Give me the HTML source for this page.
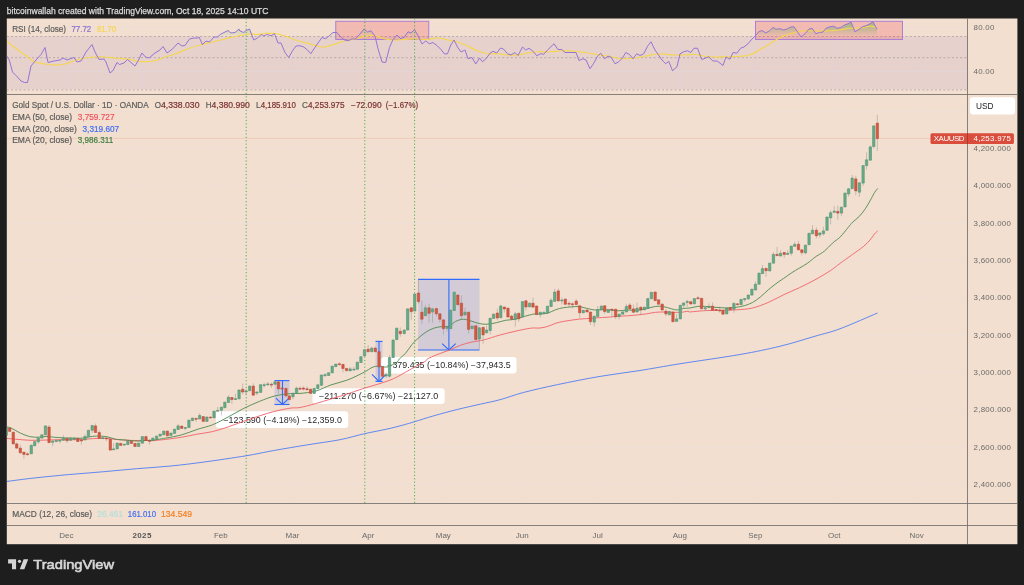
<!DOCTYPE html>
<html><head><meta charset="utf-8"><title>XAUUSD chart</title>
<style>html,body{margin:0;padding:0;background:#1e1e1e;overflow:hidden}svg{display:block;will-change:transform}</style></head>
<body>
<svg width="1024" height="585" viewBox="0 0 1024 585" font-family="'Liberation Sans', Arial, sans-serif">
<defs>
<clipPath id="cm"><rect x="6.8" y="94.5" width="960.7" height="409.0"/></clipPath>
<clipPath id="cr"><rect x="6.8" y="18.5" width="960.7" height="76.0"/></clipPath>
<clipPath id="ob"><rect x="6.8" y="18.5" width="960.7" height="17.75"/></clipPath>
<linearGradient id="gg" gradientUnits="userSpaceOnUse" x1="0" y1="8" x2="0" y2="36.25"><stop offset="0" stop-color="#4caf50" stop-opacity="1"/><stop offset="1" stop-color="#4caf50" stop-opacity="0"/></linearGradient>
</defs>
<rect width="1024" height="585" fill="#1e1e1e"/>
<rect x="6.8" y="18.5" width="1010.6" height="525.7" fill="#f2dfcf"/>
<g stroke="rgba(222,227,238,0.24)" stroke-width="1" shape-rendering="crispEdges">
<line x1="66.4" y1="18.5" x2="66.4" y2="503.5"/>
<line x1="142.1" y1="18.5" x2="142.1" y2="503.5"/>
<line x1="220.8" y1="18.5" x2="220.8" y2="503.5"/>
<line x1="292.5" y1="18.5" x2="292.5" y2="503.5"/>
<line x1="368.2" y1="18.5" x2="368.2" y2="503.5"/>
<line x1="443.3" y1="18.5" x2="443.3" y2="503.5"/>
<line x1="522.3" y1="18.5" x2="522.3" y2="503.5"/>
<line x1="597.6" y1="18.5" x2="597.6" y2="503.5"/>
<line x1="679.9" y1="18.5" x2="679.9" y2="503.5"/>
<line x1="755.3" y1="18.5" x2="755.3" y2="503.5"/>
<line x1="834.3" y1="18.5" x2="834.3" y2="503.5"/>
<line x1="916.6" y1="18.5" x2="916.6" y2="503.5"/>
<line x1="6.8" y1="111.4" x2="967.5" y2="111.4"/>
<line x1="6.8" y1="148.7" x2="967.5" y2="148.7"/>
<line x1="6.8" y1="186.1" x2="967.5" y2="186.1"/>
<line x1="6.8" y1="223.4" x2="967.5" y2="223.4"/>
<line x1="6.8" y1="260.8" x2="967.5" y2="260.8"/>
<line x1="6.8" y1="298.1" x2="967.5" y2="298.1"/>
<line x1="6.8" y1="335.5" x2="967.5" y2="335.5"/>
<line x1="6.8" y1="372.8" x2="967.5" y2="372.8"/>
<line x1="6.8" y1="410.2" x2="967.5" y2="410.2"/>
<line x1="6.8" y1="447.5" x2="967.5" y2="447.5"/>
<line x1="6.8" y1="484.9" x2="967.5" y2="484.9"/>
</g>
<rect x="6.8" y="36.25" width="960.7" height="53.0" fill="rgba(126,87,194,0.10)"/>
<g stroke="rgba(222,227,238,0.24)" stroke-width="1"><line x1="6.8" y1="27.4" x2="967.5" y2="27.4"/><line x1="6.8" y1="71.3" x2="967.5" y2="71.3"/></g>
<g stroke="#a09a9a" stroke-width="0.85" stroke-dasharray="1.9,2.3" opacity="0.85">
<line x1="6.8" y1="36.5" x2="967.5" y2="36.5"/>
<line x1="6.8" y1="57.7" x2="967.5" y2="57.7"/>
<line x1="6.8" y1="89.9" x2="967.5" y2="89.9"/>
</g>
<rect x="335.75" y="21.3" width="93.0" height="18.2" fill="rgba(242,54,69,0.22)" stroke="#ab7fd4" stroke-width="1"/>
<rect x="755.5" y="21.3" width="147.0" height="18.2" fill="rgba(242,54,69,0.22)" stroke="#ab7fd4" stroke-width="1"/>
<g clip-path="url(#cr)" fill="none" stroke-linejoin="round">
<polygon points="7.00,36.25 7.00,56.25 9.25,60.00 12.50,72.00 16.00,75.50 21.00,81.00 24.50,82.50 27.50,82.50 31.00,66.00 36.00,60.00 41.00,54.50 45.00,47.50 48.00,62.50 54.00,61.00 60.00,60.00 63.00,58.00 67.00,60.00 74.00,57.50 77.00,62.00 81.00,61.00 86.00,52.00 92.00,44.50 95.00,52.00 99.00,59.50 104.00,59.00 106.00,62.00 110.00,73.00 113.00,70.50 117.00,62.50 119.50,64.50 124.00,63.00 127.50,59.50 131.00,62.50 135.00,66.00 138.00,61.00 142.00,53.00 145.50,57.00 149.00,58.00 155.00,53.00 160.00,50.00 163.00,46.50 167.00,53.00 172.50,49.00 178.00,43.00 182.00,46.00 185.00,45.50 189.50,39.00 194.00,38.00 197.50,38.00 199.00,37.00 202.50,44.50 206.00,41.00 209.50,42.00 214.00,37.00 217.50,37.00 221.00,34.00 225.00,32.00 228.00,30.50 231.00,33.00 235.00,32.50 239.00,29.00 240.00,31.00 243.75,32.50 246.00,30.50 249.50,29.00 253.75,40.00 257.50,38.00 261.00,34.50 263.75,35.75 267.50,34.50 271.00,35.75 274.50,33.75 278.00,43.00 281.00,43.00 285.00,52.50 288.75,57.50 292.50,50.75 296.00,46.00 300.00,45.75 303.75,47.00 307.50,50.00 310.75,53.75 314.50,48.00 318.00,43.00 322.00,37.50 325.75,38.75 329.50,35.50 333.00,32.50 337.00,32.50 340.75,37.00 344.50,40.00 348.00,40.75 352.00,39.00 355.75,38.75 359.50,34.50 364.00,29.00 367.50,32.00 371.00,30.75 375.00,36.00 378.00,48.75 382.00,62.00 385.75,62.50 389.50,47.50 393.00,39.50 397.00,35.00 400.75,38.75 404.50,37.00 408.00,31.75 411.00,33.00 414.50,29.50 418.00,35.75 422.00,44.00 425.75,41.00 429.50,43.75 433.00,42.50 437.50,46.00 441.00,49.50 444.50,54.00 447.50,53.75 450.75,45.00 454.00,40.00 457.50,47.00 461.00,52.00 465.00,50.00 468.00,58.75 472.00,57.50 475.75,64.00 479.50,58.00 482.50,61.75 486.00,58.75 490.00,53.25 493.00,51.25 496.75,53.00 500.50,48.00 503.75,49.25 507.50,53.75 511.00,55.00 515.00,52.50 518.00,55.50 522.50,47.00 525.75,50.00 529.00,48.25 533.00,51.25 536.75,55.75 540.50,53.75 543.75,54.25 547.50,50.00 554.00,43.75 558.00,49.50 561.75,49.50 565.00,52.50 576.00,52.50 579.00,60.50 583.00,58.75 586.00,60.00 590.00,68.75 593.75,63.25 597.50,56.25 600.75,53.25 604.50,58.75 608.00,56.25 611.00,57.00 615.00,63.75 618.75,61.75 622.50,58.00 625.75,52.50 629.50,54.50 633.00,58.75 636.75,53.75 640.00,55.50 643.75,53.75 647.50,46.25 651.00,41.75 655.00,50.00 658.00,54.25 662.00,60.00 665.75,63.75 668.75,61.25 672.50,70.75 677.00,66.75 680.00,53.75 683.75,51.75 687.50,50.75 690.75,52.50 694.00,48.25 697.50,48.25 701.75,59.50 705.00,58.25 708.75,56.75 712.50,60.75 717.50,61.25 723.00,65.50 726.00,57.00 730.00,59.25 733.00,52.50 736.75,53.25 740.50,48.25 744.00,47.00 748.00,43.75 751.75,39.25 755.00,36.25 758.75,31.75 762.00,30.50 765.75,33.00 769.50,30.75 773.00,27.50 776.00,29.25 780.00,28.75 783.75,30.00 787.50,28.75 790.75,27.00 794.00,26.75 798.00,32.50 801.00,37.00 805.00,33.75 808.75,29.25 812.00,28.25 815.75,33.75 819.50,32.50 823.00,32.00 826.00,28.25 830.00,26.75 833.75,26.25 837.00,28.25 840.75,27.50 844.50,25.00 848.00,23.75 851.00,22.00 855.00,31.75 858.75,29.50 862.50,26.75 866.00,25.75 870.00,23.75 873.00,21.75 877.00,29.25 877.00,36.25" fill="url(#gg)" stroke="none" clip-path="url(#ob)"/>
<path d="M7.00 41.00 C7.92 41.83 9.50 43.67 12.50 46.00 C15.50 48.33 21.25 52.33 25.00 55.00 C28.75 57.67 31.67 60.50 35.00 62.00 C38.33 63.50 41.25 63.50 45.00 64.00 C48.75 64.50 54.17 65.00 57.50 65.00 C60.83 65.00 62.08 64.75 65.00 64.00 C67.92 63.25 71.67 61.50 75.00 60.50 C78.33 59.50 81.67 58.58 85.00 58.00 C88.33 57.42 91.67 57.17 95.00 57.00 C98.33 56.83 101.67 56.83 105.00 57.00 C108.33 57.17 110.83 57.58 115.00 58.00 C119.17 58.42 125.83 58.92 130.00 59.50 C134.17 60.08 136.67 61.17 140.00 61.50 C143.33 61.83 147.08 61.75 150.00 61.50 C152.92 61.25 155.00 60.75 157.50 60.00 C160.00 59.25 162.08 58.00 165.00 57.00 C167.92 56.00 171.25 55.33 175.00 54.00 C178.75 52.67 183.33 50.50 187.50 49.00 C191.67 47.50 195.83 46.17 200.00 45.00 C204.17 43.83 208.33 43.00 212.50 42.00 C216.67 41.00 220.83 40.00 225.00 39.00 C229.17 38.00 233.33 36.83 237.50 36.00 C241.67 35.17 246.92 34.25 250.00 34.00 C253.08 33.75 253.50 34.58 256.00 34.50 C258.50 34.42 261.83 33.67 265.00 33.50 C268.17 33.33 271.67 33.08 275.00 33.50 C278.33 33.92 281.25 34.79 285.00 36.00 C288.75 37.21 293.33 39.42 297.50 40.75 C301.67 42.08 306.25 43.00 310.00 44.00 C313.75 45.00 317.33 46.29 320.00 46.75 C322.67 47.21 323.50 47.21 326.00 46.75 C328.50 46.29 331.83 45.00 335.00 44.00 C338.17 43.00 341.67 41.58 345.00 40.75 C348.33 39.92 351.67 39.79 355.00 39.00 C358.33 38.21 361.67 36.54 365.00 36.00 C368.33 35.46 371.67 35.25 375.00 35.75 C378.33 36.25 381.67 38.29 385.00 39.00 C388.33 39.71 391.67 39.92 395.00 40.00 C398.33 40.08 401.67 39.71 405.00 39.50 C408.33 39.29 411.25 38.75 415.00 38.75 C418.75 38.75 423.75 39.62 427.50 39.50 C431.25 39.38 434.17 37.92 437.50 38.00 C440.83 38.08 444.17 39.33 447.50 40.00 C450.83 40.67 454.17 41.00 457.50 42.00 C460.83 43.00 464.17 44.54 467.50 46.00 C470.83 47.46 474.17 49.46 477.50 50.75 C480.83 52.04 484.17 53.25 487.50 53.75 C490.83 54.25 494.17 53.54 497.50 53.75 C500.83 53.96 504.17 54.79 507.50 55.00 C510.83 55.21 514.17 55.33 517.50 55.00 C520.83 54.67 524.17 53.54 527.50 53.00 C530.83 52.46 533.75 51.96 537.50 51.75 C541.25 51.54 545.83 51.92 550.00 51.75 C554.17 51.58 558.33 50.83 562.50 50.75 C566.67 50.67 570.83 50.88 575.00 51.25 C579.17 51.62 583.33 52.38 587.50 53.00 C591.67 53.62 595.83 54.33 600.00 55.00 C604.17 55.67 608.75 56.38 612.50 57.00 C616.25 57.62 618.75 58.58 622.50 58.75 C626.25 58.92 631.25 58.42 635.00 58.00 C638.75 57.58 641.67 56.88 645.00 56.25 C648.33 55.62 651.67 54.58 655.00 54.25 C658.33 53.92 661.67 54.12 665.00 54.25 C668.33 54.38 671.67 54.88 675.00 55.00 C678.33 55.12 681.67 55.08 685.00 55.00 C688.33 54.92 691.67 54.29 695.00 54.50 C698.33 54.71 701.67 55.83 705.00 56.25 C708.33 56.67 711.67 56.92 715.00 57.00 C718.33 57.08 722.50 56.79 725.00 56.75 C727.50 56.71 727.50 56.83 730.00 56.75 C732.50 56.67 736.67 56.54 740.00 56.25 C743.33 55.96 746.67 56.12 750.00 55.00 C753.33 53.88 756.67 51.38 760.00 49.50 C763.33 47.62 766.67 45.75 770.00 43.75 C773.33 41.75 776.67 39.17 780.00 37.50 C783.33 35.83 786.67 34.79 790.00 33.75 C793.33 32.71 796.67 31.75 800.00 31.25 C803.33 30.75 806.67 30.75 810.00 30.75 C813.33 30.75 816.67 31.25 820.00 31.25 C823.33 31.25 826.67 30.96 830.00 30.75 C833.33 30.54 836.67 30.42 840.00 30.00 C843.33 29.58 846.67 28.58 850.00 28.25 C853.33 27.92 856.67 28.33 860.00 28.00 C863.33 27.67 867.17 26.33 870.00 26.25 C872.83 26.17 875.83 27.29 877.00 27.50" stroke="#f5d552" stroke-width="1.25"/>
<polyline points="7.00,56.25 9.25,60.00 12.50,72.00 16.00,75.50 21.00,81.00 24.50,82.50 27.50,82.50 31.00,66.00 36.00,60.00 41.00,54.50 45.00,47.50 48.00,62.50 54.00,61.00 60.00,60.00 63.00,58.00 67.00,60.00 74.00,57.50 77.00,62.00 81.00,61.00 86.00,52.00 92.00,44.50 95.00,52.00 99.00,59.50 104.00,59.00 106.00,62.00 110.00,73.00 113.00,70.50 117.00,62.50 119.50,64.50 124.00,63.00 127.50,59.50 131.00,62.50 135.00,66.00 138.00,61.00 142.00,53.00 145.50,57.00 149.00,58.00 155.00,53.00 160.00,50.00 163.00,46.50 167.00,53.00 172.50,49.00 178.00,43.00 182.00,46.00 185.00,45.50 189.50,39.00 194.00,38.00 197.50,38.00 199.00,37.00 202.50,44.50 206.00,41.00 209.50,42.00 214.00,37.00 217.50,37.00 221.00,34.00 225.00,32.00 228.00,30.50 231.00,33.00 235.00,32.50 239.00,29.00 240.00,31.00 243.75,32.50 246.00,30.50 249.50,29.00 253.75,40.00 257.50,38.00 261.00,34.50 263.75,35.75 267.50,34.50 271.00,35.75 274.50,33.75 278.00,43.00 281.00,43.00 285.00,52.50 288.75,57.50 292.50,50.75 296.00,46.00 300.00,45.75 303.75,47.00 307.50,50.00 310.75,53.75 314.50,48.00 318.00,43.00 322.00,37.50 325.75,38.75 329.50,35.50 333.00,32.50 337.00,32.50 340.75,37.00 344.50,40.00 348.00,40.75 352.00,39.00 355.75,38.75 359.50,34.50 364.00,29.00 367.50,32.00 371.00,30.75 375.00,36.00 378.00,48.75 382.00,62.00 385.75,62.50 389.50,47.50 393.00,39.50 397.00,35.00 400.75,38.75 404.50,37.00 408.00,31.75 411.00,33.00 414.50,29.50 418.00,35.75 422.00,44.00 425.75,41.00 429.50,43.75 433.00,42.50 437.50,46.00 441.00,49.50 444.50,54.00 447.50,53.75 450.75,45.00 454.00,40.00 457.50,47.00 461.00,52.00 465.00,50.00 468.00,58.75 472.00,57.50 475.75,64.00 479.50,58.00 482.50,61.75 486.00,58.75 490.00,53.25 493.00,51.25 496.75,53.00 500.50,48.00 503.75,49.25 507.50,53.75 511.00,55.00 515.00,52.50 518.00,55.50 522.50,47.00 525.75,50.00 529.00,48.25 533.00,51.25 536.75,55.75 540.50,53.75 543.75,54.25 547.50,50.00 554.00,43.75 558.00,49.50 561.75,49.50 565.00,52.50 576.00,52.50 579.00,60.50 583.00,58.75 586.00,60.00 590.00,68.75 593.75,63.25 597.50,56.25 600.75,53.25 604.50,58.75 608.00,56.25 611.00,57.00 615.00,63.75 618.75,61.75 622.50,58.00 625.75,52.50 629.50,54.50 633.00,58.75 636.75,53.75 640.00,55.50 643.75,53.75 647.50,46.25 651.00,41.75 655.00,50.00 658.00,54.25 662.00,60.00 665.75,63.75 668.75,61.25 672.50,70.75 677.00,66.75 680.00,53.75 683.75,51.75 687.50,50.75 690.75,52.50 694.00,48.25 697.50,48.25 701.75,59.50 705.00,58.25 708.75,56.75 712.50,60.75 717.50,61.25 723.00,65.50 726.00,57.00 730.00,59.25 733.00,52.50 736.75,53.25 740.50,48.25 744.00,47.00 748.00,43.75 751.75,39.25 755.00,36.25 758.75,31.75 762.00,30.50 765.75,33.00 769.50,30.75 773.00,27.50 776.00,29.25 780.00,28.75 783.75,30.00 787.50,28.75 790.75,27.00 794.00,26.75 798.00,32.50 801.00,37.00 805.00,33.75 808.75,29.25 812.00,28.25 815.75,33.75 819.50,32.50 823.00,32.00 826.00,28.25 830.00,26.75 833.75,26.25 837.00,28.25 840.75,27.50 844.50,25.00 848.00,23.75 851.00,22.00 855.00,31.75 858.75,29.50 862.50,26.75 866.00,25.75 870.00,23.75 873.00,21.75 877.00,29.25" stroke="#9575d2" stroke-width="1.0"/>
</g>
<rect x="274.5" y="380.6" width="15.0" height="23.899999999999977" fill="rgba(88,124,238,0.20)"/>
<g stroke="#2f6bff" stroke-width="1.1" fill="none">
<line x1="274.5" y1="380.6" x2="289.5" y2="380.6"/><line x1="274.5" y1="404.5" x2="289.5" y2="404.5"/>
<line x1="282.5" y1="380.6" x2="282.5" y2="404.5"/>
<polyline points="275.9,398.2 282.5,404.5 289.1,398.2"/>
</g>
<rect x="375.5" y="341.4" width="7.0" height="40.0" fill="rgba(88,124,238,0.20)"/>
<g stroke="#2f6bff" stroke-width="1.1" fill="none">
<line x1="375.5" y1="341.4" x2="382.5" y2="341.4"/><line x1="375.5" y1="381.4" x2="382.5" y2="381.4"/>
<line x1="379" y1="341.4" x2="379" y2="381.4"/>
<polyline points="372,374.4 379,381.4 386,374.4"/>
</g>
<rect x="418.1" y="279.4" width="61.39999999999998" height="70.60000000000002" fill="rgba(88,124,238,0.20)"/>
<g stroke="#2f6bff" stroke-width="1.1" fill="none">
<line x1="418.1" y1="279.4" x2="479.5" y2="279.4"/><line x1="418.1" y1="350" x2="479.5" y2="350"/>
<line x1="448.9" y1="279.4" x2="448.9" y2="350"/>
<polyline points="442.09999999999997,343.7 448.9,350 455.7,343.7"/>
</g>
<rect x="215.9" y="411.3" width="132.29999999999998" height="16.80000000000001" rx="3" fill="#ffffff" filter="none"/>
<text x="223.4" y="422.6" font-size="8.3" fill="#2a2a2a" textLength="118.5" lengthAdjust="spacingAndGlyphs">−123.590 (−4.18%) −12,359.0</text>
<rect x="312.5" y="388.2" width="132.2" height="15.800000000000011" rx="3" fill="#ffffff" filter="none"/>
<text x="319" y="399.0" font-size="8.3" fill="#2a2a2a" textLength="119.3" lengthAdjust="spacingAndGlyphs">−211.270 (−6.67%) −21,127.0</text>
<rect x="381.3" y="357.1" width="135.2" height="16.5" rx="3" fill="#ffffff" filter="none"/>
<text x="387.2" y="368.2" font-size="8.3" fill="#2a2a2a" textLength="123.5" lengthAdjust="spacingAndGlyphs">−379.435 (−10.84%) −37,943.5</text>
<g stroke="#4caf50" stroke-width="1" stroke-dasharray="1.2,2.18">
<line x1="246.2" y1="18.5" x2="246.2" y2="503.5"/>
<line x1="364.8" y1="18.5" x2="364.8" y2="503.5"/>
<line x1="414.6" y1="18.5" x2="414.6" y2="503.5"/>
</g>
<g clip-path="url(#cm)" fill="none" stroke-linejoin="round">
<path d="M7.00 481.40 C11.53 480.83 23.97 479.13 34.20 478.00 C44.43 476.87 57.02 475.63 68.40 474.60 C79.78 473.57 91.12 472.78 102.50 471.80 C113.88 470.82 125.30 469.67 136.70 468.70 C148.10 467.73 159.52 467.13 170.90 466.00 C182.28 464.87 192.48 463.60 205.00 461.90 C217.52 460.20 234.60 457.68 246.00 455.80 C257.40 453.92 263.13 452.43 273.40 450.60 C283.67 448.77 296.50 446.62 307.60 444.80 C318.70 442.98 330.57 441.54 340.00 439.70 C349.43 437.86 356.38 435.52 364.20 433.75 C372.02 431.98 380.52 430.53 386.90 429.10 C393.28 427.68 397.90 426.43 402.50 425.20 C407.10 423.97 409.29 423.27 414.50 421.70 C419.71 420.13 426.63 417.83 433.75 415.80 C440.87 413.77 449.39 411.45 457.20 409.50 C465.01 407.55 473.47 405.73 480.60 404.10 C487.73 402.47 492.87 401.63 500.00 399.70 C507.13 397.77 513.80 395.02 523.40 392.50 C533.00 389.98 544.83 387.28 557.60 384.60 C570.37 381.92 586.27 378.75 600.00 376.40 C613.73 374.05 626.67 372.61 640.00 370.50 C653.33 368.39 663.33 366.42 680.00 363.75 C696.67 361.08 723.33 357.42 740.00 354.50 C756.67 351.58 767.50 349.29 780.00 346.25 C792.50 343.21 805.00 339.17 815.00 336.25 C825.00 333.33 829.58 332.62 840.00 328.75 C850.42 324.88 871.25 315.62 877.50 313.00" stroke="#4f7df5" stroke-width="0.9"/>
<path d="M7.00 438.40 C8.43 438.53 11.60 438.88 15.60 439.20 C19.60 439.52 25.77 440.17 31.00 440.30 C36.23 440.43 41.75 440.10 47.00 440.00 C52.25 439.90 57.33 439.75 62.50 439.70 C67.67 439.65 72.79 439.88 78.00 439.70 C83.21 439.52 89.08 438.82 93.75 438.60 C98.42 438.38 101.83 438.22 106.00 438.40 C110.17 438.58 114.02 439.35 118.75 439.70 C123.48 440.05 129.71 440.40 134.40 440.50 C139.09 440.60 144.30 440.23 146.90 440.30 C149.50 440.37 146.88 441.05 150.00 440.90 C153.12 440.75 160.39 440.00 165.60 439.40 C170.81 438.80 176.03 438.17 181.25 437.30 C186.47 436.43 191.69 435.15 196.90 434.20 C202.11 433.25 207.30 432.82 212.50 431.60 C217.70 430.38 222.89 428.62 228.10 426.90 C233.31 425.17 238.53 423.08 243.75 421.25 C248.97 419.42 254.19 417.57 259.40 415.90 C264.61 414.23 269.80 412.55 275.00 411.25 C280.20 409.95 286.43 408.73 290.60 408.10 C294.77 407.48 295.83 408.25 300.00 407.50 C304.17 406.75 310.39 405.03 315.60 403.60 C320.81 402.17 326.03 400.47 331.25 398.90 C336.47 397.33 341.69 395.89 346.90 394.20 C352.11 392.51 357.30 390.43 362.50 388.75 C367.70 387.07 372.89 385.79 378.10 384.10 C383.31 382.41 388.53 380.95 393.75 378.60 C398.97 376.25 404.19 372.87 409.40 370.00 C414.61 367.13 421.98 363.25 425.00 361.40 C428.02 359.55 425.52 360.02 427.50 358.90 C429.48 357.78 433.25 356.18 436.90 354.70 C440.55 353.22 445.50 351.57 449.40 350.00 C453.30 348.43 456.66 346.60 460.30 345.30 C463.94 344.00 467.34 343.10 471.25 342.20 C475.16 341.30 479.06 341.07 483.75 339.90 C488.44 338.73 494.19 336.63 499.40 335.20 C504.61 333.77 509.80 332.47 515.00 331.30 C520.20 330.13 526.43 328.75 530.60 328.20 C534.77 327.65 537.13 328.30 540.00 328.00 C542.87 327.70 545.20 327.18 547.80 326.40 C550.40 325.62 553.00 324.13 555.60 323.30 C558.20 322.47 560.79 321.92 563.40 321.40 C566.01 320.88 568.63 320.58 571.25 320.20 C573.87 319.82 576.49 319.37 579.10 319.10 C581.71 318.83 584.30 318.77 586.90 318.60 C589.50 318.43 592.10 318.28 594.70 318.10 C597.30 317.92 599.90 317.68 602.50 317.50 C605.10 317.32 607.70 317.21 610.30 317.00 C612.90 316.79 615.23 316.45 618.10 316.25 C620.97 316.05 624.37 316.01 627.50 315.80 C630.63 315.59 633.77 315.32 636.90 315.00 C640.02 314.68 643.13 314.35 646.25 313.90 C649.37 313.45 652.48 312.62 655.60 312.30 C658.73 311.98 662.13 312.00 665.00 312.00 C667.87 312.00 670.20 312.25 672.80 312.30 C675.40 312.35 678.00 312.48 680.60 312.30 C683.20 312.12 686.83 311.32 688.40 311.25 C689.97 311.18 687.13 312.01 690.00 311.90 C692.87 311.79 700.39 310.87 705.60 310.60 C710.81 310.33 716.03 310.43 721.25 310.30 C726.47 310.17 731.69 310.18 736.90 309.80 C742.11 309.42 747.30 309.22 752.50 308.00 C757.70 306.78 762.89 304.72 768.10 302.50 C773.31 300.28 778.53 297.17 783.75 294.70 C788.97 292.23 794.19 290.18 799.40 287.70 C804.61 285.22 809.80 282.67 815.00 279.80 C820.20 276.93 826.43 273.23 830.60 270.50 C834.77 267.77 836.68 265.83 840.00 263.40 C843.32 260.97 847.58 257.98 850.50 255.90 C853.42 253.82 855.29 252.51 857.50 250.90 C859.71 249.29 861.67 248.07 863.75 246.25 C865.83 244.43 868.17 242.08 870.00 240.00 C871.83 237.92 873.40 235.27 874.70 233.75 C876.00 232.23 877.28 231.38 877.80 230.90" stroke="#f0626a" stroke-width="0.9"/>
<path d="M7.00 427.00 C7.67 427.17 8.78 427.00 11.00 428.00 C13.22 429.00 17.18 431.57 20.30 433.00 C23.42 434.43 26.58 435.90 29.70 436.60 C32.82 437.30 36.12 437.23 39.00 437.20 C41.88 437.17 44.38 436.38 47.00 436.40 C49.62 436.42 50.82 437.02 54.70 437.30 C58.58 437.58 65.62 437.97 70.30 438.10 C74.98 438.23 79.15 438.38 82.80 438.10 C86.45 437.82 89.33 436.73 92.20 436.40 C95.07 436.07 97.40 436.02 100.00 436.10 C102.60 436.18 105.20 436.38 107.80 436.90 C110.40 437.42 112.73 438.68 115.60 439.20 C118.47 439.72 121.35 439.68 125.00 440.00 C128.65 440.32 133.85 441.05 137.50 441.10 C141.15 441.15 144.82 440.40 146.90 440.30 C148.98 440.20 146.88 440.87 150.00 440.50 C153.12 440.13 160.39 439.02 165.60 438.10 C170.81 437.18 176.03 436.43 181.25 435.00 C186.47 433.57 191.69 431.20 196.90 429.50 C202.11 427.80 207.30 426.88 212.50 424.80 C217.70 422.72 222.89 419.73 228.10 417.00 C233.31 414.27 238.53 411.00 243.75 408.40 C248.97 405.80 254.19 403.48 259.40 401.40 C264.61 399.32 269.80 397.20 275.00 395.90 C280.20 394.60 286.43 394.02 290.60 393.60 C294.77 393.18 295.83 393.82 300.00 393.40 C304.17 392.98 310.39 392.53 315.60 391.10 C320.81 389.67 326.03 386.62 331.25 384.80 C336.47 382.98 341.69 382.15 346.90 380.20 C352.11 378.25 358.08 375.32 362.50 373.10 C366.92 370.88 370.27 368.02 373.40 366.90 C376.52 365.78 378.90 366.40 381.25 366.40 C383.60 366.40 384.89 367.60 387.50 366.90 C390.11 366.20 394.92 363.53 396.90 362.20 C398.88 360.87 397.95 360.40 399.40 358.90 C400.85 357.40 403.52 355.58 405.60 353.20 C407.68 350.82 409.82 347.08 411.90 344.60 C413.98 342.12 415.77 340.38 418.10 338.30 C420.43 336.22 423.29 333.78 425.90 332.10 C428.51 330.42 431.13 329.12 433.75 328.20 C436.37 327.28 438.99 326.95 441.60 326.60 C444.21 326.25 447.07 326.97 449.40 326.10 C451.73 325.23 453.27 322.54 455.60 321.40 C457.93 320.26 460.79 319.30 463.40 319.25 C466.01 319.20 468.63 320.39 471.25 321.10 C473.87 321.81 476.49 322.98 479.10 323.50 C481.71 324.02 484.04 324.38 486.90 324.25 C489.76 324.12 493.13 323.36 496.25 322.70 C499.37 322.04 502.48 320.88 505.60 320.30 C508.73 319.73 511.87 319.90 515.00 319.25 C518.13 318.60 521.27 317.26 524.40 316.40 C527.52 315.54 531.15 314.52 533.75 314.10 C536.35 313.68 537.66 314.07 540.00 313.90 C542.34 313.73 545.20 313.80 547.80 313.10 C550.40 312.40 553.00 310.60 555.60 309.70 C558.20 308.80 560.79 308.17 563.40 307.70 C566.01 307.23 568.63 307.08 571.25 306.90 C573.87 306.72 576.49 306.35 579.10 306.60 C581.71 306.85 584.30 307.83 586.90 308.40 C589.50 308.97 592.10 309.78 594.70 310.00 C597.30 310.22 599.90 309.70 602.50 309.70 C605.10 309.70 607.70 309.82 610.30 310.00 C612.90 310.18 615.23 310.80 618.10 310.80 C620.97 310.80 624.37 310.08 627.50 310.00 C630.63 309.92 633.77 310.51 636.90 310.30 C640.02 310.09 643.13 309.40 646.25 308.75 C649.37 308.10 652.74 306.76 655.60 306.40 C658.46 306.04 660.79 306.21 663.40 306.60 C666.01 306.99 668.90 308.18 671.25 308.75 C673.60 309.32 675.42 310.06 677.50 310.00 C679.58 309.94 681.67 308.73 683.75 308.40 C685.83 308.07 687.66 308.33 690.00 308.00 C692.34 307.67 695.20 306.67 697.80 306.40 C700.40 306.13 703.00 306.27 705.60 306.40 C708.20 306.53 710.79 306.98 713.40 307.20 C716.01 307.42 718.63 307.57 721.25 307.70 C723.87 307.83 726.49 308.08 729.10 308.00 C731.71 307.92 734.30 307.60 736.90 307.20 C739.50 306.80 742.10 306.38 744.70 305.60 C747.30 304.82 749.90 303.93 752.50 302.50 C755.10 301.07 757.70 299.08 760.30 297.00 C762.90 294.92 765.50 292.21 768.10 290.00 C770.70 287.79 773.29 285.70 775.90 283.75 C778.51 281.80 781.13 280.12 783.75 278.30 C786.37 276.48 788.99 274.50 791.60 272.80 C794.21 271.10 796.80 269.67 799.40 268.10 C802.00 266.53 804.60 265.22 807.20 263.40 C809.80 261.58 813.38 258.45 815.00 257.20 C816.62 255.95 815.28 256.95 816.90 255.90 C818.52 254.85 822.10 253.03 824.70 250.90 C827.30 248.77 829.90 245.43 832.50 243.10 C835.10 240.77 837.70 239.50 840.30 236.90 C842.90 234.30 846.02 229.98 848.10 227.50 C850.18 225.02 850.97 223.82 852.80 222.00 C854.63 220.18 857.02 218.81 859.10 216.60 C861.18 214.39 863.48 211.37 865.30 208.75 C867.12 206.13 868.43 203.64 870.00 200.90 C871.57 198.16 873.40 194.38 874.70 192.30 C876.00 190.22 877.28 189.05 877.80 188.40" stroke="#4d8a4f" stroke-width="0.9"/>
<line x1="6.8" y1="138.4" x2="967.5" y2="138.4" stroke="#e8a89c" stroke-width="0.7" opacity="0.55"/>
<line x1="6.25" y1="427.0" x2="6.25" y2="435.8" stroke="#8f8a88" stroke-opacity="0.75" stroke-width="0.6"/>
<rect x="5.05" y="427.5" width="2.4" height="7.8" fill="#66ab88" stroke="#4a8c6c" stroke-width="0.5"/>
<line x1="9.69" y1="427.5" x2="9.69" y2="431.9" stroke="#8f8a88" stroke-opacity="0.75" stroke-width="0.6"/>
<rect x="8.49" y="428.0" width="2.4" height="3.4" fill="#d9573f" stroke="#b0483a" stroke-width="0.5"/>
<line x1="13.28" y1="431.7" x2="13.28" y2="444.4" stroke="#8f8a88" stroke-opacity="0.75" stroke-width="0.6"/>
<rect x="12.08" y="432.2" width="2.4" height="11.7" fill="#d9573f" stroke="#b0483a" stroke-width="0.5"/>
<line x1="16.72" y1="442.3" x2="16.72" y2="448.6" stroke="#8f8a88" stroke-opacity="0.75" stroke-width="0.6"/>
<rect x="15.52" y="443.9" width="2.4" height="4.2" fill="#d9573f" stroke="#b0483a" stroke-width="0.5"/>
<line x1="20.31" y1="444.7" x2="20.31" y2="453.3" stroke="#8f8a88" stroke-opacity="0.75" stroke-width="0.6"/>
<rect x="19.11" y="448.1" width="2.4" height="4.7" fill="#d9573f" stroke="#b0483a" stroke-width="0.5"/>
<line x1="23.91" y1="451.7" x2="23.91" y2="458.8" stroke="#8f8a88" stroke-opacity="0.75" stroke-width="0.6"/>
<rect x="22.71" y="452.2" width="2.4" height="2.2" fill="#d9573f" stroke="#b0483a" stroke-width="0.5"/>
<line x1="27.50" y1="452.5" x2="27.50" y2="455.6" stroke="#8f8a88" stroke-opacity="0.75" stroke-width="0.6"/>
<rect x="26.30" y="453.8" width="2.4" height="0.9" fill="#d9573f" stroke="#b0483a" stroke-width="0.5"/>
<line x1="31.25" y1="444.7" x2="31.25" y2="454.2" stroke="#8f8a88" stroke-opacity="0.75" stroke-width="0.6"/>
<rect x="30.05" y="445.2" width="2.4" height="8.6" fill="#66ab88" stroke="#4a8c6c" stroke-width="0.5"/>
<line x1="34.69" y1="441.1" x2="34.69" y2="446.2" stroke="#8f8a88" stroke-opacity="0.75" stroke-width="0.6"/>
<rect x="33.49" y="441.6" width="2.4" height="4.2" fill="#66ab88" stroke="#4a8c6c" stroke-width="0.5"/>
<line x1="38.28" y1="437.7" x2="38.28" y2="443.9" stroke="#8f8a88" stroke-opacity="0.75" stroke-width="0.6"/>
<rect x="37.08" y="438.1" width="2.4" height="3.8" fill="#66ab88" stroke="#4a8c6c" stroke-width="0.5"/>
<line x1="41.88" y1="434.1" x2="41.88" y2="438.4" stroke="#8f8a88" stroke-opacity="0.75" stroke-width="0.6"/>
<rect x="40.67" y="434.8" width="2.4" height="3.3" fill="#66ab88" stroke="#4a8c6c" stroke-width="0.5"/>
<line x1="45.47" y1="425.6" x2="45.47" y2="435.3" stroke="#8f8a88" stroke-opacity="0.75" stroke-width="0.6"/>
<rect x="44.27" y="425.9" width="2.4" height="8.9" fill="#66ab88" stroke="#4a8c6c" stroke-width="0.5"/>
<line x1="49.06" y1="425.2" x2="49.06" y2="443.1" stroke="#8f8a88" stroke-opacity="0.75" stroke-width="0.6"/>
<rect x="47.86" y="427.0" width="2.4" height="15.6" fill="#d9573f" stroke="#b0483a" stroke-width="0.5"/>
<line x1="52.66" y1="440.0" x2="52.66" y2="446.2" stroke="#8f8a88" stroke-opacity="0.75" stroke-width="0.6"/>
<rect x="51.46" y="441.2" width="2.4" height="1.1" fill="#66ab88" stroke="#4a8c6c" stroke-width="0.5"/>
<line x1="56.25" y1="439.2" x2="56.25" y2="442.3" stroke="#8f8a88" stroke-opacity="0.75" stroke-width="0.6"/>
<rect x="55.05" y="440.3" width="2.4" height="1.2" fill="#66ab88" stroke="#4a8c6c" stroke-width="0.5"/>
<line x1="59.84" y1="439.7" x2="59.84" y2="443.1" stroke="#8f8a88" stroke-opacity="0.75" stroke-width="0.6"/>
<rect x="58.64" y="440.2" width="2.4" height="0.9" fill="#66ab88" stroke="#4a8c6c" stroke-width="0.5"/>
<line x1="63.44" y1="435.3" x2="63.44" y2="440.8" stroke="#8f8a88" stroke-opacity="0.75" stroke-width="0.6"/>
<rect x="62.24" y="438.1" width="2.4" height="2.2" fill="#66ab88" stroke="#4a8c6c" stroke-width="0.5"/>
<line x1="67.03" y1="437.7" x2="67.03" y2="442.8" stroke="#8f8a88" stroke-opacity="0.75" stroke-width="0.6"/>
<rect x="65.83" y="438.4" width="2.4" height="2.3" fill="#d9573f" stroke="#b0483a" stroke-width="0.5"/>
<line x1="70.62" y1="436.9" x2="70.62" y2="440.9" stroke="#8f8a88" stroke-opacity="0.75" stroke-width="0.6"/>
<rect x="69.42" y="438.1" width="2.4" height="2.2" fill="#66ab88" stroke="#4a8c6c" stroke-width="0.5"/>
<line x1="74.22" y1="436.9" x2="74.22" y2="440.0" stroke="#8f8a88" stroke-opacity="0.75" stroke-width="0.6"/>
<rect x="73.02" y="438.1" width="2.4" height="1.2" fill="#66ab88" stroke="#4a8c6c" stroke-width="0.5"/>
<line x1="77.81" y1="437.7" x2="77.81" y2="442.0" stroke="#8f8a88" stroke-opacity="0.75" stroke-width="0.6"/>
<rect x="76.61" y="438.4" width="2.4" height="3.1" fill="#d9573f" stroke="#b0483a" stroke-width="0.5"/>
<line x1="81.41" y1="438.4" x2="81.41" y2="444.7" stroke="#8f8a88" stroke-opacity="0.75" stroke-width="0.6"/>
<rect x="80.21" y="440.0" width="2.4" height="0.9" fill="#d9573f" stroke="#b0483a" stroke-width="0.5"/>
<line x1="85.00" y1="434.5" x2="85.00" y2="440.3" stroke="#8f8a88" stroke-opacity="0.75" stroke-width="0.6"/>
<rect x="83.80" y="436.4" width="2.4" height="3.6" fill="#66ab88" stroke="#4a8c6c" stroke-width="0.5"/>
<line x1="88.44" y1="429.8" x2="88.44" y2="436.9" stroke="#8f8a88" stroke-opacity="0.75" stroke-width="0.6"/>
<rect x="87.24" y="430.3" width="2.4" height="6.2" fill="#66ab88" stroke="#4a8c6c" stroke-width="0.5"/>
<line x1="92.19" y1="425.2" x2="92.19" y2="433.0" stroke="#8f8a88" stroke-opacity="0.75" stroke-width="0.6"/>
<rect x="90.99" y="425.5" width="2.4" height="4.8" fill="#66ab88" stroke="#4a8c6c" stroke-width="0.5"/>
<line x1="95.47" y1="423.6" x2="95.47" y2="433.0" stroke="#8f8a88" stroke-opacity="0.75" stroke-width="0.6"/>
<rect x="94.27" y="425.9" width="2.4" height="6.6" fill="#d9573f" stroke="#b0483a" stroke-width="0.5"/>
<line x1="99.22" y1="430.3" x2="99.22" y2="438.8" stroke="#8f8a88" stroke-opacity="0.75" stroke-width="0.6"/>
<rect x="98.02" y="432.5" width="2.4" height="5.9" fill="#d9573f" stroke="#b0483a" stroke-width="0.5"/>
<line x1="102.81" y1="436.9" x2="102.81" y2="438.9" stroke="#8f8a88" stroke-opacity="0.75" stroke-width="0.6"/>
<rect x="101.61" y="437.7" width="2.4" height="0.9" fill="#66ab88" stroke="#4a8c6c" stroke-width="0.5"/>
<line x1="106.41" y1="437.3" x2="106.41" y2="441.2" stroke="#8f8a88" stroke-opacity="0.75" stroke-width="0.6"/>
<rect x="105.21" y="438.0" width="2.4" height="0.9" fill="#d9573f" stroke="#b0483a" stroke-width="0.5"/>
<line x1="110.31" y1="438.8" x2="110.31" y2="450.5" stroke="#8f8a88" stroke-opacity="0.75" stroke-width="0.6"/>
<rect x="109.11" y="439.2" width="2.4" height="10.9" fill="#d9573f" stroke="#b0483a" stroke-width="0.5"/>
<line x1="113.59" y1="443.1" x2="113.59" y2="450.0" stroke="#8f8a88" stroke-opacity="0.75" stroke-width="0.6"/>
<rect x="112.39" y="448.9" width="2.4" height="0.9" fill="#66ab88" stroke="#4a8c6c" stroke-width="0.5"/>
<line x1="117.19" y1="442.5" x2="117.19" y2="449.2" stroke="#8f8a88" stroke-opacity="0.75" stroke-width="0.6"/>
<rect x="115.99" y="443.1" width="2.4" height="5.8" fill="#66ab88" stroke="#4a8c6c" stroke-width="0.5"/>
<line x1="120.62" y1="442.8" x2="120.62" y2="445.9" stroke="#8f8a88" stroke-opacity="0.75" stroke-width="0.6"/>
<rect x="119.42" y="443.4" width="2.4" height="2.0" fill="#d9573f" stroke="#b0483a" stroke-width="0.5"/>
<line x1="124.22" y1="443.8" x2="124.22" y2="445.5" stroke="#8f8a88" stroke-opacity="0.75" stroke-width="0.6"/>
<rect x="123.02" y="444.2" width="2.4" height="0.9" fill="#66ab88" stroke="#4a8c6c" stroke-width="0.5"/>
<line x1="127.81" y1="440.8" x2="127.81" y2="445.0" stroke="#8f8a88" stroke-opacity="0.75" stroke-width="0.6"/>
<rect x="126.61" y="441.2" width="2.4" height="3.4" fill="#66ab88" stroke="#4a8c6c" stroke-width="0.5"/>
<line x1="131.41" y1="440.3" x2="131.41" y2="443.9" stroke="#8f8a88" stroke-opacity="0.75" stroke-width="0.6"/>
<rect x="130.21" y="441.2" width="2.4" height="2.2" fill="#d9573f" stroke="#b0483a" stroke-width="0.5"/>
<line x1="135.00" y1="443.1" x2="135.00" y2="447.0" stroke="#8f8a88" stroke-opacity="0.75" stroke-width="0.6"/>
<rect x="133.80" y="443.4" width="2.4" height="3.1" fill="#d9573f" stroke="#b0483a" stroke-width="0.5"/>
<line x1="138.59" y1="442.8" x2="138.59" y2="446.9" stroke="#8f8a88" stroke-opacity="0.75" stroke-width="0.6"/>
<rect x="137.39" y="443.1" width="2.4" height="3.4" fill="#66ab88" stroke="#4a8c6c" stroke-width="0.5"/>
<line x1="142.34" y1="436.1" x2="142.34" y2="443.4" stroke="#8f8a88" stroke-opacity="0.75" stroke-width="0.6"/>
<rect x="141.14" y="436.6" width="2.4" height="6.6" fill="#66ab88" stroke="#4a8c6c" stroke-width="0.5"/>
<line x1="145.94" y1="435.8" x2="145.94" y2="440.9" stroke="#8f8a88" stroke-opacity="0.75" stroke-width="0.6"/>
<rect x="144.74" y="436.6" width="2.4" height="3.9" fill="#d9573f" stroke="#b0483a" stroke-width="0.5"/>
<line x1="149.53" y1="439.2" x2="149.53" y2="444.7" stroke="#8f8a88" stroke-opacity="0.75" stroke-width="0.6"/>
<rect x="148.33" y="440.3" width="2.4" height="0.9" fill="#d9573f" stroke="#b0483a" stroke-width="0.5"/>
<line x1="152.81" y1="437.7" x2="152.81" y2="440.9" stroke="#8f8a88" stroke-opacity="0.75" stroke-width="0.6"/>
<rect x="151.61" y="438.1" width="2.4" height="2.3" fill="#66ab88" stroke="#4a8c6c" stroke-width="0.5"/>
<line x1="156.56" y1="435.6" x2="156.56" y2="439.1" stroke="#8f8a88" stroke-opacity="0.75" stroke-width="0.6"/>
<rect x="155.36" y="436.1" width="2.4" height="2.5" fill="#66ab88" stroke="#4a8c6c" stroke-width="0.5"/>
<line x1="160.16" y1="433.8" x2="160.16" y2="436.6" stroke="#8f8a88" stroke-opacity="0.75" stroke-width="0.6"/>
<rect x="158.96" y="434.2" width="2.4" height="1.9" fill="#66ab88" stroke="#4a8c6c" stroke-width="0.5"/>
<line x1="163.75" y1="430.6" x2="163.75" y2="435.2" stroke="#8f8a88" stroke-opacity="0.75" stroke-width="0.6"/>
<rect x="162.55" y="431.1" width="2.4" height="3.6" fill="#66ab88" stroke="#4a8c6c" stroke-width="0.5"/>
<line x1="167.34" y1="430.6" x2="167.34" y2="436.2" stroke="#8f8a88" stroke-opacity="0.75" stroke-width="0.6"/>
<rect x="166.14" y="431.1" width="2.4" height="4.7" fill="#d9573f" stroke="#b0483a" stroke-width="0.5"/>
<line x1="170.94" y1="432.7" x2="170.94" y2="435.9" stroke="#8f8a88" stroke-opacity="0.75" stroke-width="0.6"/>
<rect x="169.74" y="433.1" width="2.4" height="2.3" fill="#66ab88" stroke="#4a8c6c" stroke-width="0.5"/>
<line x1="174.53" y1="428.8" x2="174.53" y2="433.9" stroke="#8f8a88" stroke-opacity="0.75" stroke-width="0.6"/>
<rect x="173.33" y="429.2" width="2.4" height="4.2" fill="#66ab88" stroke="#4a8c6c" stroke-width="0.5"/>
<line x1="178.12" y1="424.1" x2="178.12" y2="430.0" stroke="#8f8a88" stroke-opacity="0.75" stroke-width="0.6"/>
<rect x="176.93" y="425.9" width="2.4" height="3.6" fill="#66ab88" stroke="#4a8c6c" stroke-width="0.5"/>
<line x1="181.72" y1="425.6" x2="181.72" y2="428.9" stroke="#8f8a88" stroke-opacity="0.75" stroke-width="0.6"/>
<rect x="180.52" y="426.1" width="2.4" height="2.3" fill="#d9573f" stroke="#b0483a" stroke-width="0.5"/>
<line x1="185.31" y1="426.9" x2="185.31" y2="430.3" stroke="#8f8a88" stroke-opacity="0.75" stroke-width="0.6"/>
<rect x="184.11" y="427.5" width="2.4" height="0.9" fill="#66ab88" stroke="#4a8c6c" stroke-width="0.5"/>
<line x1="188.91" y1="419.7" x2="188.91" y2="428.0" stroke="#8f8a88" stroke-opacity="0.75" stroke-width="0.6"/>
<rect x="187.71" y="420.2" width="2.4" height="7.3" fill="#66ab88" stroke="#4a8c6c" stroke-width="0.5"/>
<line x1="192.50" y1="417.7" x2="192.50" y2="421.1" stroke="#8f8a88" stroke-opacity="0.75" stroke-width="0.6"/>
<rect x="191.30" y="418.1" width="2.4" height="2.5" fill="#66ab88" stroke="#4a8c6c" stroke-width="0.5"/>
<line x1="196.09" y1="417.8" x2="196.09" y2="421.7" stroke="#8f8a88" stroke-opacity="0.75" stroke-width="0.6"/>
<rect x="194.89" y="418.4" width="2.4" height="0.9" fill="#d9573f" stroke="#b0483a" stroke-width="0.5"/>
<line x1="199.69" y1="413.1" x2="199.69" y2="419.4" stroke="#8f8a88" stroke-opacity="0.75" stroke-width="0.6"/>
<rect x="198.49" y="415.5" width="2.4" height="3.4" fill="#66ab88" stroke="#4a8c6c" stroke-width="0.5"/>
<line x1="203.28" y1="416.1" x2="203.28" y2="421.9" stroke="#8f8a88" stroke-opacity="0.75" stroke-width="0.6"/>
<rect x="202.08" y="416.6" width="2.4" height="4.8" fill="#d9573f" stroke="#b0483a" stroke-width="0.5"/>
<line x1="206.88" y1="416.6" x2="206.88" y2="421.9" stroke="#8f8a88" stroke-opacity="0.75" stroke-width="0.6"/>
<rect x="205.68" y="417.0" width="2.4" height="4.4" fill="#66ab88" stroke="#4a8c6c" stroke-width="0.5"/>
<line x1="210.47" y1="416.6" x2="210.47" y2="418.6" stroke="#8f8a88" stroke-opacity="0.75" stroke-width="0.6"/>
<rect x="209.27" y="417.0" width="2.4" height="0.9" fill="#d9573f" stroke="#b0483a" stroke-width="0.5"/>
<line x1="214.06" y1="410.8" x2="214.06" y2="418.3" stroke="#8f8a88" stroke-opacity="0.75" stroke-width="0.6"/>
<rect x="212.86" y="411.2" width="2.4" height="6.6" fill="#66ab88" stroke="#4a8c6c" stroke-width="0.5"/>
<line x1="217.66" y1="406.9" x2="217.66" y2="411.9" stroke="#8f8a88" stroke-opacity="0.75" stroke-width="0.6"/>
<rect x="216.46" y="410.3" width="2.4" height="0.9" fill="#66ab88" stroke="#4a8c6c" stroke-width="0.5"/>
<line x1="221.41" y1="406.6" x2="221.41" y2="415.5" stroke="#8f8a88" stroke-opacity="0.75" stroke-width="0.6"/>
<rect x="220.21" y="407.2" width="2.4" height="3.1" fill="#66ab88" stroke="#4a8c6c" stroke-width="0.5"/>
<line x1="224.84" y1="401.7" x2="224.84" y2="408.1" stroke="#8f8a88" stroke-opacity="0.75" stroke-width="0.6"/>
<rect x="223.64" y="402.2" width="2.4" height="5.5" fill="#66ab88" stroke="#4a8c6c" stroke-width="0.5"/>
<line x1="228.44" y1="395.2" x2="228.44" y2="403.0" stroke="#8f8a88" stroke-opacity="0.75" stroke-width="0.6"/>
<rect x="227.24" y="397.2" width="2.4" height="5.3" fill="#66ab88" stroke="#4a8c6c" stroke-width="0.5"/>
<line x1="231.88" y1="396.9" x2="231.88" y2="403.8" stroke="#8f8a88" stroke-opacity="0.75" stroke-width="0.6"/>
<rect x="230.68" y="397.5" width="2.4" height="2.0" fill="#d9573f" stroke="#b0483a" stroke-width="0.5"/>
<line x1="235.47" y1="393.6" x2="235.47" y2="400.0" stroke="#8f8a88" stroke-opacity="0.75" stroke-width="0.6"/>
<rect x="234.27" y="398.6" width="2.4" height="0.9" fill="#66ab88" stroke="#4a8c6c" stroke-width="0.5"/>
<line x1="239.06" y1="389.5" x2="239.06" y2="399.2" stroke="#8f8a88" stroke-opacity="0.75" stroke-width="0.6"/>
<rect x="237.86" y="390.0" width="2.4" height="8.8" fill="#66ab88" stroke="#4a8c6c" stroke-width="0.5"/>
<line x1="242.66" y1="383.4" x2="242.66" y2="394.4" stroke="#8f8a88" stroke-opacity="0.75" stroke-width="0.6"/>
<rect x="241.46" y="389.2" width="2.4" height="2.8" fill="#d9573f" stroke="#b0483a" stroke-width="0.5"/>
<line x1="246.09" y1="388.9" x2="246.09" y2="395.2" stroke="#8f8a88" stroke-opacity="0.75" stroke-width="0.6"/>
<rect x="244.89" y="390.9" width="2.4" height="1.1" fill="#66ab88" stroke="#4a8c6c" stroke-width="0.5"/>
<line x1="249.69" y1="385.3" x2="249.69" y2="391.2" stroke="#8f8a88" stroke-opacity="0.75" stroke-width="0.6"/>
<rect x="248.49" y="386.2" width="2.4" height="4.5" fill="#66ab88" stroke="#4a8c6c" stroke-width="0.5"/>
<line x1="253.28" y1="383.4" x2="253.28" y2="395.6" stroke="#8f8a88" stroke-opacity="0.75" stroke-width="0.6"/>
<rect x="252.08" y="386.1" width="2.4" height="9.1" fill="#d9573f" stroke="#b0483a" stroke-width="0.5"/>
<line x1="256.88" y1="391.2" x2="256.88" y2="395.2" stroke="#8f8a88" stroke-opacity="0.75" stroke-width="0.6"/>
<rect x="255.68" y="392.0" width="2.4" height="1.1" fill="#66ab88" stroke="#4a8c6c" stroke-width="0.5"/>
<line x1="260.62" y1="384.2" x2="260.62" y2="392.8" stroke="#8f8a88" stroke-opacity="0.75" stroke-width="0.6"/>
<rect x="259.43" y="384.7" width="2.4" height="7.7" fill="#66ab88" stroke="#4a8c6c" stroke-width="0.5"/>
<line x1="264.22" y1="382.7" x2="264.22" y2="387.3" stroke="#8f8a88" stroke-opacity="0.75" stroke-width="0.6"/>
<rect x="263.02" y="384.7" width="2.4" height="0.9" fill="#66ab88" stroke="#4a8c6c" stroke-width="0.5"/>
<line x1="267.81" y1="381.9" x2="267.81" y2="385.8" stroke="#8f8a88" stroke-opacity="0.75" stroke-width="0.6"/>
<rect x="266.61" y="383.9" width="2.4" height="0.9" fill="#66ab88" stroke="#4a8c6c" stroke-width="0.5"/>
<line x1="271.41" y1="382.7" x2="271.41" y2="388.1" stroke="#8f8a88" stroke-opacity="0.75" stroke-width="0.6"/>
<rect x="270.21" y="384.2" width="2.4" height="0.9" fill="#d9573f" stroke="#b0483a" stroke-width="0.5"/>
<line x1="275.00" y1="381.1" x2="275.00" y2="384.7" stroke="#8f8a88" stroke-opacity="0.75" stroke-width="0.6"/>
<rect x="273.80" y="381.9" width="2.4" height="2.3" fill="#66ab88" stroke="#4a8c6c" stroke-width="0.5"/>
<line x1="278.44" y1="381.2" x2="278.44" y2="393.6" stroke="#8f8a88" stroke-opacity="0.75" stroke-width="0.6"/>
<rect x="277.24" y="381.9" width="2.4" height="7.0" fill="#d9573f" stroke="#b0483a" stroke-width="0.5"/>
<line x1="282.03" y1="387.5" x2="282.03" y2="390.0" stroke="#8f8a88" stroke-opacity="0.75" stroke-width="0.6"/>
<rect x="280.83" y="388.1" width="2.4" height="0.9" fill="#d9573f" stroke="#b0483a" stroke-width="0.5"/>
<line x1="285.94" y1="387.8" x2="285.94" y2="396.6" stroke="#8f8a88" stroke-opacity="0.75" stroke-width="0.6"/>
<rect x="284.74" y="388.4" width="2.4" height="7.5" fill="#d9573f" stroke="#b0483a" stroke-width="0.5"/>
<line x1="289.38" y1="395.3" x2="289.38" y2="400.3" stroke="#8f8a88" stroke-opacity="0.75" stroke-width="0.6"/>
<rect x="288.18" y="395.9" width="2.4" height="3.6" fill="#d9573f" stroke="#b0483a" stroke-width="0.5"/>
<line x1="292.97" y1="392.5" x2="292.97" y2="399.1" stroke="#8f8a88" stroke-opacity="0.75" stroke-width="0.6"/>
<rect x="291.77" y="393.3" width="2.4" height="3.4" fill="#66ab88" stroke="#4a8c6c" stroke-width="0.5"/>
<line x1="296.56" y1="386.6" x2="296.56" y2="393.8" stroke="#8f8a88" stroke-opacity="0.75" stroke-width="0.6"/>
<rect x="295.36" y="388.1" width="2.4" height="5.2" fill="#66ab88" stroke="#4a8c6c" stroke-width="0.5"/>
<line x1="300.00" y1="386.4" x2="300.00" y2="390.0" stroke="#8f8a88" stroke-opacity="0.75" stroke-width="0.6"/>
<rect x="298.80" y="388.3" width="2.4" height="0.9" fill="#d9573f" stroke="#b0483a" stroke-width="0.5"/>
<line x1="303.44" y1="386.4" x2="303.44" y2="390.3" stroke="#8f8a88" stroke-opacity="0.75" stroke-width="0.6"/>
<rect x="302.24" y="388.0" width="2.4" height="1.1" fill="#d9573f" stroke="#b0483a" stroke-width="0.5"/>
<line x1="307.03" y1="386.4" x2="307.03" y2="390.3" stroke="#8f8a88" stroke-opacity="0.75" stroke-width="0.6"/>
<rect x="305.83" y="388.8" width="2.4" height="0.9" fill="#d9573f" stroke="#b0483a" stroke-width="0.5"/>
<line x1="310.62" y1="388.8" x2="310.62" y2="393.9" stroke="#8f8a88" stroke-opacity="0.75" stroke-width="0.6"/>
<rect x="309.43" y="389.2" width="2.4" height="4.2" fill="#d9573f" stroke="#b0483a" stroke-width="0.5"/>
<line x1="314.22" y1="388.0" x2="314.22" y2="393.9" stroke="#8f8a88" stroke-opacity="0.75" stroke-width="0.6"/>
<rect x="313.02" y="388.4" width="2.4" height="5.0" fill="#66ab88" stroke="#4a8c6c" stroke-width="0.5"/>
<line x1="317.81" y1="384.4" x2="317.81" y2="389.2" stroke="#8f8a88" stroke-opacity="0.75" stroke-width="0.6"/>
<rect x="316.61" y="384.8" width="2.4" height="3.9" fill="#66ab88" stroke="#4a8c6c" stroke-width="0.5"/>
<line x1="321.41" y1="374.5" x2="321.41" y2="385.8" stroke="#8f8a88" stroke-opacity="0.75" stroke-width="0.6"/>
<rect x="320.21" y="375.0" width="2.4" height="10.3" fill="#66ab88" stroke="#4a8c6c" stroke-width="0.5"/>
<line x1="325.00" y1="373.1" x2="325.00" y2="377.0" stroke="#8f8a88" stroke-opacity="0.75" stroke-width="0.6"/>
<rect x="323.80" y="374.7" width="2.4" height="0.9" fill="#66ab88" stroke="#4a8c6c" stroke-width="0.5"/>
<line x1="328.59" y1="372.3" x2="328.59" y2="375.9" stroke="#8f8a88" stroke-opacity="0.75" stroke-width="0.6"/>
<rect x="327.39" y="372.8" width="2.4" height="2.7" fill="#66ab88" stroke="#4a8c6c" stroke-width="0.5"/>
<line x1="332.19" y1="365.8" x2="332.19" y2="373.3" stroke="#8f8a88" stroke-opacity="0.75" stroke-width="0.6"/>
<rect x="330.99" y="366.2" width="2.4" height="6.6" fill="#66ab88" stroke="#4a8c6c" stroke-width="0.5"/>
<line x1="335.78" y1="363.6" x2="335.78" y2="367.0" stroke="#8f8a88" stroke-opacity="0.75" stroke-width="0.6"/>
<rect x="334.58" y="364.1" width="2.4" height="2.5" fill="#66ab88" stroke="#4a8c6c" stroke-width="0.5"/>
<line x1="339.38" y1="362.2" x2="339.38" y2="365.3" stroke="#8f8a88" stroke-opacity="0.75" stroke-width="0.6"/>
<rect x="338.18" y="363.8" width="2.4" height="0.9" fill="#d9573f" stroke="#b0483a" stroke-width="0.5"/>
<line x1="342.97" y1="363.8" x2="342.97" y2="372.3" stroke="#8f8a88" stroke-opacity="0.75" stroke-width="0.6"/>
<rect x="341.77" y="364.4" width="2.4" height="4.1" fill="#d9573f" stroke="#b0483a" stroke-width="0.5"/>
<line x1="346.56" y1="368.0" x2="346.56" y2="371.2" stroke="#8f8a88" stroke-opacity="0.75" stroke-width="0.6"/>
<rect x="345.36" y="368.4" width="2.4" height="2.3" fill="#d9573f" stroke="#b0483a" stroke-width="0.5"/>
<line x1="350.16" y1="366.9" x2="350.16" y2="371.2" stroke="#8f8a88" stroke-opacity="0.75" stroke-width="0.6"/>
<rect x="348.96" y="368.9" width="2.4" height="1.9" fill="#66ab88" stroke="#4a8c6c" stroke-width="0.5"/>
<line x1="353.91" y1="366.9" x2="353.91" y2="370.0" stroke="#8f8a88" stroke-opacity="0.75" stroke-width="0.6"/>
<rect x="352.71" y="369.2" width="2.4" height="0.9" fill="#66ab88" stroke="#4a8c6c" stroke-width="0.5"/>
<line x1="357.34" y1="361.7" x2="357.34" y2="369.7" stroke="#8f8a88" stroke-opacity="0.75" stroke-width="0.6"/>
<rect x="356.14" y="362.2" width="2.4" height="7.0" fill="#66ab88" stroke="#4a8c6c" stroke-width="0.5"/>
<line x1="360.94" y1="356.2" x2="360.94" y2="363.0" stroke="#8f8a88" stroke-opacity="0.75" stroke-width="0.6"/>
<rect x="359.74" y="356.7" width="2.4" height="5.8" fill="#66ab88" stroke="#4a8c6c" stroke-width="0.5"/>
<line x1="364.53" y1="349.2" x2="364.53" y2="356.4" stroke="#8f8a88" stroke-opacity="0.75" stroke-width="0.6"/>
<rect x="363.33" y="349.7" width="2.4" height="6.2" fill="#66ab88" stroke="#4a8c6c" stroke-width="0.5"/>
<line x1="368.12" y1="345.0" x2="368.12" y2="352.2" stroke="#8f8a88" stroke-opacity="0.75" stroke-width="0.6"/>
<rect x="366.93" y="349.2" width="2.4" height="2.5" fill="#d9573f" stroke="#b0483a" stroke-width="0.5"/>
<line x1="371.72" y1="346.9" x2="371.72" y2="352.2" stroke="#8f8a88" stroke-opacity="0.75" stroke-width="0.6"/>
<rect x="370.52" y="348.1" width="2.4" height="3.6" fill="#66ab88" stroke="#4a8c6c" stroke-width="0.5"/>
<line x1="375.31" y1="346.6" x2="375.31" y2="352.2" stroke="#8f8a88" stroke-opacity="0.75" stroke-width="0.6"/>
<rect x="374.11" y="348.1" width="2.4" height="3.6" fill="#d9573f" stroke="#b0483a" stroke-width="0.5"/>
<line x1="379.06" y1="351.2" x2="379.06" y2="367.3" stroke="#8f8a88" stroke-opacity="0.75" stroke-width="0.6"/>
<rect x="377.86" y="351.7" width="2.4" height="15.2" fill="#d9573f" stroke="#b0483a" stroke-width="0.5"/>
<line x1="382.50" y1="366.2" x2="382.50" y2="377.0" stroke="#8f8a88" stroke-opacity="0.75" stroke-width="0.6"/>
<rect x="381.30" y="366.9" width="2.4" height="9.4" fill="#d9573f" stroke="#b0483a" stroke-width="0.5"/>
<line x1="386.09" y1="372.3" x2="386.09" y2="378.1" stroke="#8f8a88" stroke-opacity="0.75" stroke-width="0.6"/>
<rect x="384.89" y="374.7" width="2.4" height="1.2" fill="#66ab88" stroke="#4a8c6c" stroke-width="0.5"/>
<line x1="389.53" y1="355.2" x2="389.53" y2="377.5" stroke="#8f8a88" stroke-opacity="0.75" stroke-width="0.6"/>
<rect x="388.33" y="357.5" width="2.4" height="18.8" fill="#66ab88" stroke="#4a8c6c" stroke-width="0.5"/>
<line x1="393.12" y1="339.5" x2="393.12" y2="358.0" stroke="#8f8a88" stroke-opacity="0.75" stroke-width="0.6"/>
<rect x="391.93" y="340.0" width="2.4" height="17.5" fill="#66ab88" stroke="#4a8c6c" stroke-width="0.5"/>
<line x1="396.72" y1="327.7" x2="396.72" y2="340.0" stroke="#8f8a88" stroke-opacity="0.75" stroke-width="0.6"/>
<rect x="395.52" y="328.2" width="2.4" height="11.4" fill="#66ab88" stroke="#4a8c6c" stroke-width="0.5"/>
<line x1="400.31" y1="327.4" x2="400.31" y2="336.8" stroke="#8f8a88" stroke-opacity="0.75" stroke-width="0.6"/>
<rect x="399.11" y="331.3" width="2.4" height="2.3" fill="#d9573f" stroke="#b0483a" stroke-width="0.5"/>
<line x1="404.22" y1="329.6" x2="404.22" y2="334.1" stroke="#8f8a88" stroke-opacity="0.75" stroke-width="0.6"/>
<rect x="403.02" y="330.0" width="2.4" height="3.6" fill="#66ab88" stroke="#4a8c6c" stroke-width="0.5"/>
<line x1="407.66" y1="308.5" x2="407.66" y2="330.5" stroke="#8f8a88" stroke-opacity="0.75" stroke-width="0.6"/>
<rect x="406.46" y="308.9" width="2.4" height="21.1" fill="#66ab88" stroke="#4a8c6c" stroke-width="0.5"/>
<line x1="411.25" y1="307.1" x2="411.25" y2="319.6" stroke="#8f8a88" stroke-opacity="0.75" stroke-width="0.6"/>
<rect x="410.05" y="307.8" width="2.4" height="3.9" fill="#d9573f" stroke="#b0483a" stroke-width="0.5"/>
<line x1="414.69" y1="293.6" x2="414.69" y2="311.4" stroke="#8f8a88" stroke-opacity="0.75" stroke-width="0.6"/>
<rect x="413.49" y="294.1" width="2.4" height="16.9" fill="#66ab88" stroke="#4a8c6c" stroke-width="0.5"/>
<line x1="418.44" y1="279.7" x2="418.44" y2="303.9" stroke="#8f8a88" stroke-opacity="0.75" stroke-width="0.6"/>
<rect x="417.24" y="293.0" width="2.4" height="8.6" fill="#d9573f" stroke="#b0483a" stroke-width="0.5"/>
<line x1="421.88" y1="300.8" x2="421.88" y2="324.2" stroke="#8f8a88" stroke-opacity="0.75" stroke-width="0.6"/>
<rect x="420.68" y="312.2" width="2.4" height="7.0" fill="#d9573f" stroke="#b0483a" stroke-width="0.5"/>
<line x1="425.47" y1="304.7" x2="425.47" y2="316.4" stroke="#8f8a88" stroke-opacity="0.75" stroke-width="0.6"/>
<rect x="424.27" y="307.8" width="2.4" height="7.8" fill="#66ab88" stroke="#4a8c6c" stroke-width="0.5"/>
<line x1="429.06" y1="303.9" x2="429.06" y2="322.7" stroke="#8f8a88" stroke-opacity="0.75" stroke-width="0.6"/>
<rect x="427.86" y="307.8" width="2.4" height="5.5" fill="#d9573f" stroke="#b0483a" stroke-width="0.5"/>
<line x1="432.50" y1="307.8" x2="432.50" y2="322.7" stroke="#8f8a88" stroke-opacity="0.75" stroke-width="0.6"/>
<rect x="431.30" y="308.9" width="2.4" height="3.1" fill="#66ab88" stroke="#4a8c6c" stroke-width="0.5"/>
<line x1="436.41" y1="307.8" x2="436.41" y2="316.4" stroke="#8f8a88" stroke-opacity="0.75" stroke-width="0.6"/>
<rect x="435.21" y="308.6" width="2.4" height="5.2" fill="#d9573f" stroke="#b0483a" stroke-width="0.5"/>
<line x1="439.84" y1="313.0" x2="439.84" y2="322.7" stroke="#8f8a88" stroke-opacity="0.75" stroke-width="0.6"/>
<rect x="438.64" y="313.8" width="2.4" height="5.5" fill="#d9573f" stroke="#b0483a" stroke-width="0.5"/>
<line x1="443.44" y1="319.2" x2="443.44" y2="334.4" stroke="#8f8a88" stroke-opacity="0.75" stroke-width="0.6"/>
<rect x="442.24" y="319.9" width="2.4" height="8.8" fill="#d9573f" stroke="#b0483a" stroke-width="0.5"/>
<line x1="447.03" y1="325.5" x2="447.03" y2="331.3" stroke="#8f8a88" stroke-opacity="0.75" stroke-width="0.6"/>
<rect x="445.83" y="327.4" width="2.4" height="0.9" fill="#66ab88" stroke="#4a8c6c" stroke-width="0.5"/>
<line x1="450.62" y1="309.7" x2="450.62" y2="329.1" stroke="#8f8a88" stroke-opacity="0.75" stroke-width="0.6"/>
<rect x="449.43" y="310.2" width="2.4" height="18.4" fill="#66ab88" stroke="#4a8c6c" stroke-width="0.5"/>
<line x1="454.22" y1="291.8" x2="454.22" y2="311.0" stroke="#8f8a88" stroke-opacity="0.75" stroke-width="0.6"/>
<rect x="453.02" y="292.2" width="2.4" height="18.3" fill="#66ab88" stroke="#4a8c6c" stroke-width="0.5"/>
<line x1="457.81" y1="294.6" x2="457.81" y2="305.2" stroke="#8f8a88" stroke-opacity="0.75" stroke-width="0.6"/>
<rect x="456.61" y="295.0" width="2.4" height="9.7" fill="#d9573f" stroke="#b0483a" stroke-width="0.5"/>
<line x1="461.41" y1="295.3" x2="461.41" y2="319.2" stroke="#8f8a88" stroke-opacity="0.75" stroke-width="0.6"/>
<rect x="460.21" y="303.2" width="2.4" height="12.5" fill="#d9573f" stroke="#b0483a" stroke-width="0.5"/>
<line x1="465.00" y1="307.8" x2="465.00" y2="315.7" stroke="#8f8a88" stroke-opacity="0.75" stroke-width="0.6"/>
<rect x="463.80" y="312.2" width="2.4" height="2.7" fill="#66ab88" stroke="#4a8c6c" stroke-width="0.5"/>
<line x1="468.59" y1="311.8" x2="468.59" y2="333.6" stroke="#8f8a88" stroke-opacity="0.75" stroke-width="0.6"/>
<rect x="467.39" y="312.2" width="2.4" height="17.2" fill="#d9573f" stroke="#b0483a" stroke-width="0.5"/>
<line x1="472.19" y1="325.7" x2="472.19" y2="329.1" stroke="#8f8a88" stroke-opacity="0.75" stroke-width="0.6"/>
<rect x="470.99" y="326.1" width="2.4" height="2.5" fill="#66ab88" stroke="#4a8c6c" stroke-width="0.5"/>
<line x1="475.78" y1="325.3" x2="475.78" y2="340.0" stroke="#8f8a88" stroke-opacity="0.75" stroke-width="0.6"/>
<rect x="474.58" y="325.8" width="2.4" height="13.8" fill="#d9573f" stroke="#b0483a" stroke-width="0.5"/>
<line x1="479.38" y1="327.1" x2="479.38" y2="349.2" stroke="#8f8a88" stroke-opacity="0.75" stroke-width="0.6"/>
<rect x="478.18" y="327.8" width="2.4" height="11.2" fill="#66ab88" stroke="#4a8c6c" stroke-width="0.5"/>
<line x1="483.12" y1="326.6" x2="483.12" y2="343.8" stroke="#8f8a88" stroke-opacity="0.75" stroke-width="0.6"/>
<rect x="481.93" y="327.4" width="2.4" height="7.5" fill="#d9573f" stroke="#b0483a" stroke-width="0.5"/>
<line x1="486.56" y1="325.8" x2="486.56" y2="333.6" stroke="#8f8a88" stroke-opacity="0.75" stroke-width="0.6"/>
<rect x="485.36" y="330.0" width="2.4" height="2.8" fill="#66ab88" stroke="#4a8c6c" stroke-width="0.5"/>
<line x1="490.16" y1="317.7" x2="490.16" y2="334.4" stroke="#8f8a88" stroke-opacity="0.75" stroke-width="0.6"/>
<rect x="488.96" y="318.3" width="2.4" height="12.2" fill="#66ab88" stroke="#4a8c6c" stroke-width="0.5"/>
<line x1="493.59" y1="313.6" x2="493.59" y2="318.9" stroke="#8f8a88" stroke-opacity="0.75" stroke-width="0.6"/>
<rect x="492.39" y="314.1" width="2.4" height="4.4" fill="#66ab88" stroke="#4a8c6c" stroke-width="0.5"/>
<line x1="497.34" y1="308.6" x2="497.34" y2="320.3" stroke="#8f8a88" stroke-opacity="0.75" stroke-width="0.6"/>
<rect x="496.14" y="313.0" width="2.4" height="5.0" fill="#d9573f" stroke="#b0483a" stroke-width="0.5"/>
<line x1="500.78" y1="304.7" x2="500.78" y2="318.3" stroke="#8f8a88" stroke-opacity="0.75" stroke-width="0.6"/>
<rect x="499.58" y="306.0" width="2.4" height="11.7" fill="#66ab88" stroke="#4a8c6c" stroke-width="0.5"/>
<line x1="504.38" y1="306.4" x2="504.38" y2="312.5" stroke="#8f8a88" stroke-opacity="0.75" stroke-width="0.6"/>
<rect x="503.18" y="307.1" width="2.4" height="1.9" fill="#d9573f" stroke="#b0483a" stroke-width="0.5"/>
<line x1="507.97" y1="307.7" x2="507.97" y2="317.4" stroke="#8f8a88" stroke-opacity="0.75" stroke-width="0.6"/>
<rect x="506.77" y="308.2" width="2.4" height="8.8" fill="#d9573f" stroke="#b0483a" stroke-width="0.5"/>
<line x1="511.56" y1="314.9" x2="511.56" y2="320.3" stroke="#8f8a88" stroke-opacity="0.75" stroke-width="0.6"/>
<rect x="510.36" y="316.1" width="2.4" height="3.1" fill="#d9573f" stroke="#b0483a" stroke-width="0.5"/>
<line x1="515.31" y1="311.8" x2="515.31" y2="326.6" stroke="#8f8a88" stroke-opacity="0.75" stroke-width="0.6"/>
<rect x="514.11" y="313.8" width="2.4" height="5.5" fill="#66ab88" stroke="#4a8c6c" stroke-width="0.5"/>
<line x1="518.75" y1="312.5" x2="518.75" y2="321.9" stroke="#8f8a88" stroke-opacity="0.75" stroke-width="0.6"/>
<rect x="517.55" y="313.3" width="2.4" height="5.5" fill="#d9573f" stroke="#b0483a" stroke-width="0.5"/>
<line x1="522.50" y1="301.1" x2="522.50" y2="317.4" stroke="#8f8a88" stroke-opacity="0.75" stroke-width="0.6"/>
<rect x="521.30" y="301.6" width="2.4" height="15.3" fill="#66ab88" stroke="#4a8c6c" stroke-width="0.5"/>
<line x1="525.94" y1="300.0" x2="525.94" y2="310.2" stroke="#8f8a88" stroke-opacity="0.75" stroke-width="0.6"/>
<rect x="524.74" y="300.8" width="2.4" height="6.2" fill="#d9573f" stroke="#b0483a" stroke-width="0.5"/>
<line x1="529.53" y1="302.4" x2="529.53" y2="307.4" stroke="#8f8a88" stroke-opacity="0.75" stroke-width="0.6"/>
<rect x="528.33" y="303.2" width="2.4" height="3.6" fill="#66ab88" stroke="#4a8c6c" stroke-width="0.5"/>
<line x1="532.97" y1="297.7" x2="532.97" y2="307.8" stroke="#8f8a88" stroke-opacity="0.75" stroke-width="0.6"/>
<rect x="531.77" y="303.2" width="2.4" height="3.9" fill="#d9573f" stroke="#b0483a" stroke-width="0.5"/>
<line x1="536.56" y1="305.5" x2="536.56" y2="315.0" stroke="#8f8a88" stroke-opacity="0.75" stroke-width="0.6"/>
<rect x="535.36" y="306.0" width="2.4" height="8.6" fill="#d9573f" stroke="#b0483a" stroke-width="0.5"/>
<line x1="540.31" y1="311.6" x2="540.31" y2="317.5" stroke="#8f8a88" stroke-opacity="0.75" stroke-width="0.6"/>
<rect x="539.11" y="312.3" width="2.4" height="2.3" fill="#66ab88" stroke="#4a8c6c" stroke-width="0.5"/>
<line x1="543.91" y1="310.8" x2="543.91" y2="314.7" stroke="#8f8a88" stroke-opacity="0.75" stroke-width="0.6"/>
<rect x="542.71" y="312.5" width="2.4" height="0.9" fill="#66ab88" stroke="#4a8c6c" stroke-width="0.5"/>
<line x1="547.50" y1="305.8" x2="547.50" y2="313.6" stroke="#8f8a88" stroke-opacity="0.75" stroke-width="0.6"/>
<rect x="546.30" y="306.2" width="2.4" height="6.9" fill="#66ab88" stroke="#4a8c6c" stroke-width="0.5"/>
<line x1="551.09" y1="298.3" x2="551.09" y2="306.9" stroke="#8f8a88" stroke-opacity="0.75" stroke-width="0.6"/>
<rect x="549.89" y="300.3" width="2.4" height="6.2" fill="#66ab88" stroke="#4a8c6c" stroke-width="0.5"/>
<line x1="554.69" y1="288.9" x2="554.69" y2="301.9" stroke="#8f8a88" stroke-opacity="0.75" stroke-width="0.6"/>
<rect x="553.49" y="292.0" width="2.4" height="9.4" fill="#66ab88" stroke="#4a8c6c" stroke-width="0.5"/>
<line x1="558.28" y1="288.6" x2="558.28" y2="301.4" stroke="#8f8a88" stroke-opacity="0.75" stroke-width="0.6"/>
<rect x="557.08" y="290.9" width="2.4" height="10.0" fill="#d9573f" stroke="#b0483a" stroke-width="0.5"/>
<line x1="561.88" y1="297.5" x2="561.88" y2="304.5" stroke="#8f8a88" stroke-opacity="0.75" stroke-width="0.6"/>
<rect x="560.67" y="300.0" width="2.4" height="0.9" fill="#66ab88" stroke="#4a8c6c" stroke-width="0.5"/>
<line x1="565.31" y1="298.6" x2="565.31" y2="304.7" stroke="#8f8a88" stroke-opacity="0.75" stroke-width="0.6"/>
<rect x="564.11" y="299.1" width="2.4" height="5.2" fill="#d9573f" stroke="#b0483a" stroke-width="0.5"/>
<line x1="569.06" y1="301.4" x2="569.06" y2="306.9" stroke="#8f8a88" stroke-opacity="0.75" stroke-width="0.6"/>
<rect x="567.86" y="303.3" width="2.4" height="0.9" fill="#d9573f" stroke="#b0483a" stroke-width="0.5"/>
<line x1="572.50" y1="302.2" x2="572.50" y2="308.4" stroke="#8f8a88" stroke-opacity="0.75" stroke-width="0.6"/>
<rect x="571.30" y="303.8" width="2.4" height="0.9" fill="#d9573f" stroke="#b0483a" stroke-width="0.5"/>
<line x1="576.25" y1="299.1" x2="576.25" y2="305.3" stroke="#8f8a88" stroke-opacity="0.75" stroke-width="0.6"/>
<rect x="575.05" y="301.1" width="2.4" height="3.4" fill="#d9573f" stroke="#b0483a" stroke-width="0.5"/>
<line x1="579.69" y1="305.3" x2="579.69" y2="317.8" stroke="#8f8a88" stroke-opacity="0.75" stroke-width="0.6"/>
<rect x="578.49" y="305.8" width="2.4" height="7.0" fill="#d9573f" stroke="#b0483a" stroke-width="0.5"/>
<line x1="583.28" y1="309.8" x2="583.28" y2="313.3" stroke="#8f8a88" stroke-opacity="0.75" stroke-width="0.6"/>
<rect x="582.08" y="310.3" width="2.4" height="2.5" fill="#66ab88" stroke="#4a8c6c" stroke-width="0.5"/>
<line x1="587.03" y1="309.5" x2="587.03" y2="312.3" stroke="#8f8a88" stroke-opacity="0.75" stroke-width="0.6"/>
<rect x="585.83" y="310.0" width="2.4" height="1.9" fill="#d9573f" stroke="#b0483a" stroke-width="0.5"/>
<line x1="590.47" y1="311.6" x2="590.47" y2="324.8" stroke="#8f8a88" stroke-opacity="0.75" stroke-width="0.6"/>
<rect x="589.27" y="312.0" width="2.4" height="9.7" fill="#d9573f" stroke="#b0483a" stroke-width="0.5"/>
<line x1="594.22" y1="315.5" x2="594.22" y2="326.4" stroke="#8f8a88" stroke-opacity="0.75" stroke-width="0.6"/>
<rect x="593.02" y="316.2" width="2.4" height="5.9" fill="#66ab88" stroke="#4a8c6c" stroke-width="0.5"/>
<line x1="597.66" y1="306.1" x2="597.66" y2="317.0" stroke="#8f8a88" stroke-opacity="0.75" stroke-width="0.6"/>
<rect x="596.46" y="309.7" width="2.4" height="6.9" fill="#66ab88" stroke="#4a8c6c" stroke-width="0.5"/>
<line x1="601.41" y1="305.6" x2="601.41" y2="310.2" stroke="#8f8a88" stroke-opacity="0.75" stroke-width="0.6"/>
<rect x="600.21" y="306.1" width="2.4" height="3.6" fill="#66ab88" stroke="#4a8c6c" stroke-width="0.5"/>
<line x1="604.69" y1="305.3" x2="604.69" y2="313.9" stroke="#8f8a88" stroke-opacity="0.75" stroke-width="0.6"/>
<rect x="603.49" y="305.8" width="2.4" height="5.8" fill="#d9573f" stroke="#b0483a" stroke-width="0.5"/>
<line x1="608.28" y1="309.2" x2="608.28" y2="312.8" stroke="#8f8a88" stroke-opacity="0.75" stroke-width="0.6"/>
<rect x="607.08" y="309.7" width="2.4" height="2.7" fill="#66ab88" stroke="#4a8c6c" stroke-width="0.5"/>
<line x1="611.88" y1="308.8" x2="611.88" y2="317.0" stroke="#8f8a88" stroke-opacity="0.75" stroke-width="0.6"/>
<rect x="610.67" y="309.2" width="2.4" height="0.9" fill="#d9573f" stroke="#b0483a" stroke-width="0.5"/>
<line x1="615.62" y1="308.8" x2="615.62" y2="319.1" stroke="#8f8a88" stroke-opacity="0.75" stroke-width="0.6"/>
<rect x="614.42" y="309.2" width="2.4" height="7.5" fill="#d9573f" stroke="#b0483a" stroke-width="0.5"/>
<line x1="619.06" y1="313.6" x2="619.06" y2="319.4" stroke="#8f8a88" stroke-opacity="0.75" stroke-width="0.6"/>
<rect x="617.86" y="314.2" width="2.4" height="2.3" fill="#66ab88" stroke="#4a8c6c" stroke-width="0.5"/>
<line x1="622.66" y1="311.4" x2="622.66" y2="314.7" stroke="#8f8a88" stroke-opacity="0.75" stroke-width="0.6"/>
<rect x="621.46" y="311.9" width="2.4" height="2.3" fill="#66ab88" stroke="#4a8c6c" stroke-width="0.5"/>
<line x1="626.41" y1="303.8" x2="626.41" y2="312.3" stroke="#8f8a88" stroke-opacity="0.75" stroke-width="0.6"/>
<rect x="625.21" y="306.4" width="2.4" height="5.5" fill="#66ab88" stroke="#4a8c6c" stroke-width="0.5"/>
<line x1="629.84" y1="303.0" x2="629.84" y2="309.4" stroke="#8f8a88" stroke-opacity="0.75" stroke-width="0.6"/>
<rect x="628.64" y="305.0" width="2.4" height="3.9" fill="#d9573f" stroke="#b0483a" stroke-width="0.5"/>
<line x1="633.44" y1="304.5" x2="633.44" y2="312.8" stroke="#8f8a88" stroke-opacity="0.75" stroke-width="0.6"/>
<rect x="632.24" y="308.9" width="2.4" height="3.4" fill="#d9573f" stroke="#b0483a" stroke-width="0.5"/>
<line x1="637.03" y1="302.5" x2="637.03" y2="312.5" stroke="#8f8a88" stroke-opacity="0.75" stroke-width="0.6"/>
<rect x="635.83" y="308.1" width="2.4" height="3.9" fill="#66ab88" stroke="#4a8c6c" stroke-width="0.5"/>
<line x1="640.78" y1="306.6" x2="640.78" y2="314.7" stroke="#8f8a88" stroke-opacity="0.75" stroke-width="0.6"/>
<rect x="639.58" y="307.2" width="2.4" height="2.8" fill="#d9573f" stroke="#b0483a" stroke-width="0.5"/>
<line x1="644.38" y1="306.7" x2="644.38" y2="310.2" stroke="#8f8a88" stroke-opacity="0.75" stroke-width="0.6"/>
<rect x="643.17" y="307.2" width="2.4" height="2.5" fill="#66ab88" stroke="#4a8c6c" stroke-width="0.5"/>
<line x1="647.81" y1="298.1" x2="647.81" y2="308.9" stroke="#8f8a88" stroke-opacity="0.75" stroke-width="0.6"/>
<rect x="646.61" y="298.6" width="2.4" height="9.8" fill="#66ab88" stroke="#4a8c6c" stroke-width="0.5"/>
<line x1="651.41" y1="291.9" x2="651.41" y2="299.2" stroke="#8f8a88" stroke-opacity="0.75" stroke-width="0.6"/>
<rect x="650.21" y="292.3" width="2.4" height="6.4" fill="#66ab88" stroke="#4a8c6c" stroke-width="0.5"/>
<line x1="655.16" y1="291.6" x2="655.16" y2="301.1" stroke="#8f8a88" stroke-opacity="0.75" stroke-width="0.6"/>
<rect x="653.96" y="292.0" width="2.4" height="8.6" fill="#d9573f" stroke="#b0483a" stroke-width="0.5"/>
<line x1="658.59" y1="299.4" x2="658.59" y2="304.7" stroke="#8f8a88" stroke-opacity="0.75" stroke-width="0.6"/>
<rect x="657.39" y="299.8" width="2.4" height="4.4" fill="#d9573f" stroke="#b0483a" stroke-width="0.5"/>
<line x1="662.19" y1="303.6" x2="662.19" y2="310.5" stroke="#8f8a88" stroke-opacity="0.75" stroke-width="0.6"/>
<rect x="660.99" y="304.1" width="2.4" height="5.9" fill="#d9573f" stroke="#b0483a" stroke-width="0.5"/>
<line x1="665.94" y1="309.2" x2="665.94" y2="316.2" stroke="#8f8a88" stroke-opacity="0.75" stroke-width="0.6"/>
<rect x="664.74" y="311.2" width="2.4" height="2.7" fill="#d9573f" stroke="#b0483a" stroke-width="0.5"/>
<line x1="669.38" y1="310.8" x2="669.38" y2="315.5" stroke="#8f8a88" stroke-opacity="0.75" stroke-width="0.6"/>
<rect x="668.17" y="311.6" width="2.4" height="3.1" fill="#66ab88" stroke="#4a8c6c" stroke-width="0.5"/>
<line x1="672.97" y1="311.6" x2="672.97" y2="322.2" stroke="#8f8a88" stroke-opacity="0.75" stroke-width="0.6"/>
<rect x="671.77" y="312.0" width="2.4" height="9.7" fill="#d9573f" stroke="#b0483a" stroke-width="0.5"/>
<line x1="676.56" y1="313.9" x2="676.56" y2="321.9" stroke="#8f8a88" stroke-opacity="0.75" stroke-width="0.6"/>
<rect x="675.36" y="318.9" width="2.4" height="2.5" fill="#66ab88" stroke="#4a8c6c" stroke-width="0.5"/>
<line x1="680.31" y1="304.8" x2="680.31" y2="319.4" stroke="#8f8a88" stroke-opacity="0.75" stroke-width="0.6"/>
<rect x="679.11" y="305.3" width="2.4" height="13.6" fill="#66ab88" stroke="#4a8c6c" stroke-width="0.5"/>
<line x1="683.59" y1="302.2" x2="683.59" y2="307.7" stroke="#8f8a88" stroke-opacity="0.75" stroke-width="0.6"/>
<rect x="682.39" y="303.0" width="2.4" height="2.3" fill="#66ab88" stroke="#4a8c6c" stroke-width="0.5"/>
<line x1="687.19" y1="299.8" x2="687.19" y2="306.9" stroke="#8f8a88" stroke-opacity="0.75" stroke-width="0.6"/>
<rect x="685.99" y="301.4" width="2.4" height="1.1" fill="#66ab88" stroke="#4a8c6c" stroke-width="0.5"/>
<line x1="690.78" y1="301.2" x2="690.78" y2="304.5" stroke="#8f8a88" stroke-opacity="0.75" stroke-width="0.6"/>
<rect x="689.58" y="301.7" width="2.4" height="2.3" fill="#d9573f" stroke="#b0483a" stroke-width="0.5"/>
<line x1="694.38" y1="298.1" x2="694.38" y2="304.2" stroke="#8f8a88" stroke-opacity="0.75" stroke-width="0.6"/>
<rect x="693.17" y="298.6" width="2.4" height="5.2" fill="#66ab88" stroke="#4a8c6c" stroke-width="0.5"/>
<line x1="697.97" y1="296.2" x2="697.97" y2="299.4" stroke="#8f8a88" stroke-opacity="0.75" stroke-width="0.6"/>
<rect x="696.77" y="297.8" width="2.4" height="0.9" fill="#d9573f" stroke="#b0483a" stroke-width="0.5"/>
<line x1="701.56" y1="297.8" x2="701.56" y2="309.2" stroke="#8f8a88" stroke-opacity="0.75" stroke-width="0.6"/>
<rect x="700.36" y="298.3" width="2.4" height="10.5" fill="#d9573f" stroke="#b0483a" stroke-width="0.5"/>
<line x1="705.31" y1="307.2" x2="705.31" y2="310.6" stroke="#8f8a88" stroke-opacity="0.75" stroke-width="0.6"/>
<rect x="704.11" y="307.7" width="2.4" height="1.1" fill="#66ab88" stroke="#4a8c6c" stroke-width="0.5"/>
<line x1="708.91" y1="303.3" x2="708.91" y2="308.1" stroke="#8f8a88" stroke-opacity="0.75" stroke-width="0.6"/>
<rect x="707.71" y="306.4" width="2.4" height="1.1" fill="#66ab88" stroke="#4a8c6c" stroke-width="0.5"/>
<line x1="712.50" y1="302.5" x2="712.50" y2="310.8" stroke="#8f8a88" stroke-opacity="0.75" stroke-width="0.6"/>
<rect x="711.30" y="306.1" width="2.4" height="4.2" fill="#d9573f" stroke="#b0483a" stroke-width="0.5"/>
<line x1="716.09" y1="308.8" x2="716.09" y2="310.6" stroke="#8f8a88" stroke-opacity="0.75" stroke-width="0.6"/>
<rect x="714.89" y="309.5" width="2.4" height="0.9" fill="#d9573f" stroke="#b0483a" stroke-width="0.5"/>
<line x1="719.69" y1="306.4" x2="719.69" y2="312.7" stroke="#8f8a88" stroke-opacity="0.75" stroke-width="0.6"/>
<rect x="718.49" y="310.0" width="2.4" height="0.9" fill="#d9573f" stroke="#b0483a" stroke-width="0.5"/>
<line x1="722.97" y1="309.8" x2="722.97" y2="314.7" stroke="#8f8a88" stroke-opacity="0.75" stroke-width="0.6"/>
<rect x="721.77" y="310.3" width="2.4" height="3.9" fill="#d9573f" stroke="#b0483a" stroke-width="0.5"/>
<line x1="726.72" y1="307.5" x2="726.72" y2="314.4" stroke="#8f8a88" stroke-opacity="0.75" stroke-width="0.6"/>
<rect x="725.52" y="308.0" width="2.4" height="5.9" fill="#66ab88" stroke="#4a8c6c" stroke-width="0.5"/>
<line x1="730.16" y1="307.0" x2="730.16" y2="310.3" stroke="#8f8a88" stroke-opacity="0.75" stroke-width="0.6"/>
<rect x="728.96" y="307.5" width="2.4" height="2.3" fill="#d9573f" stroke="#b0483a" stroke-width="0.5"/>
<line x1="733.91" y1="302.5" x2="733.91" y2="312.7" stroke="#8f8a88" stroke-opacity="0.75" stroke-width="0.6"/>
<rect x="732.71" y="303.3" width="2.4" height="5.9" fill="#66ab88" stroke="#4a8c6c" stroke-width="0.5"/>
<line x1="737.50" y1="303.3" x2="737.50" y2="305.2" stroke="#8f8a88" stroke-opacity="0.75" stroke-width="0.6"/>
<rect x="736.30" y="303.8" width="2.4" height="0.9" fill="#d9573f" stroke="#b0483a" stroke-width="0.5"/>
<line x1="741.09" y1="298.9" x2="741.09" y2="305.0" stroke="#8f8a88" stroke-opacity="0.75" stroke-width="0.6"/>
<rect x="739.89" y="299.4" width="2.4" height="5.2" fill="#66ab88" stroke="#4a8c6c" stroke-width="0.5"/>
<line x1="744.69" y1="298.1" x2="744.69" y2="301.7" stroke="#8f8a88" stroke-opacity="0.75" stroke-width="0.6"/>
<rect x="743.49" y="298.6" width="2.4" height="1.1" fill="#66ab88" stroke="#4a8c6c" stroke-width="0.5"/>
<line x1="748.28" y1="294.5" x2="748.28" y2="299.4" stroke="#8f8a88" stroke-opacity="0.75" stroke-width="0.6"/>
<rect x="747.08" y="295.0" width="2.4" height="3.9" fill="#66ab88" stroke="#4a8c6c" stroke-width="0.5"/>
<line x1="751.88" y1="288.8" x2="751.88" y2="295.6" stroke="#8f8a88" stroke-opacity="0.75" stroke-width="0.6"/>
<rect x="750.67" y="289.2" width="2.4" height="5.9" fill="#66ab88" stroke="#4a8c6c" stroke-width="0.5"/>
<line x1="755.47" y1="281.4" x2="755.47" y2="290.5" stroke="#8f8a88" stroke-opacity="0.75" stroke-width="0.6"/>
<rect x="754.27" y="284.2" width="2.4" height="5.8" fill="#66ab88" stroke="#4a8c6c" stroke-width="0.5"/>
<line x1="759.06" y1="272.7" x2="759.06" y2="284.7" stroke="#8f8a88" stroke-opacity="0.75" stroke-width="0.6"/>
<rect x="757.86" y="273.1" width="2.4" height="11.1" fill="#66ab88" stroke="#4a8c6c" stroke-width="0.5"/>
<line x1="762.50" y1="265.0" x2="762.50" y2="274.1" stroke="#8f8a88" stroke-opacity="0.75" stroke-width="0.6"/>
<rect x="761.30" y="268.6" width="2.4" height="5.0" fill="#66ab88" stroke="#4a8c6c" stroke-width="0.5"/>
<line x1="766.09" y1="267.8" x2="766.09" y2="276.7" stroke="#8f8a88" stroke-opacity="0.75" stroke-width="0.6"/>
<rect x="764.89" y="268.4" width="2.4" height="2.3" fill="#d9573f" stroke="#b0483a" stroke-width="0.5"/>
<line x1="769.69" y1="262.7" x2="769.69" y2="271.4" stroke="#8f8a88" stroke-opacity="0.75" stroke-width="0.6"/>
<rect x="768.49" y="263.1" width="2.4" height="7.8" fill="#66ab88" stroke="#4a8c6c" stroke-width="0.5"/>
<line x1="773.44" y1="252.2" x2="773.44" y2="263.4" stroke="#8f8a88" stroke-opacity="0.75" stroke-width="0.6"/>
<rect x="772.24" y="254.4" width="2.4" height="8.8" fill="#66ab88" stroke="#4a8c6c" stroke-width="0.5"/>
<line x1="777.03" y1="247.0" x2="777.03" y2="256.1" stroke="#8f8a88" stroke-opacity="0.75" stroke-width="0.6"/>
<rect x="775.83" y="254.4" width="2.4" height="1.2" fill="#d9573f" stroke="#b0483a" stroke-width="0.5"/>
<line x1="780.47" y1="250.2" x2="780.47" y2="256.4" stroke="#8f8a88" stroke-opacity="0.75" stroke-width="0.6"/>
<rect x="779.27" y="253.3" width="2.4" height="2.7" fill="#66ab88" stroke="#4a8c6c" stroke-width="0.5"/>
<line x1="784.22" y1="251.9" x2="784.22" y2="258.0" stroke="#8f8a88" stroke-opacity="0.75" stroke-width="0.6"/>
<rect x="783.02" y="252.5" width="2.4" height="2.0" fill="#d9573f" stroke="#b0483a" stroke-width="0.5"/>
<line x1="787.66" y1="250.2" x2="787.66" y2="254.8" stroke="#8f8a88" stroke-opacity="0.75" stroke-width="0.6"/>
<rect x="786.46" y="253.3" width="2.4" height="1.1" fill="#66ab88" stroke="#4a8c6c" stroke-width="0.5"/>
<line x1="791.25" y1="245.6" x2="791.25" y2="255.6" stroke="#8f8a88" stroke-opacity="0.75" stroke-width="0.6"/>
<rect x="790.05" y="246.2" width="2.4" height="7.0" fill="#66ab88" stroke="#4a8c6c" stroke-width="0.5"/>
<line x1="794.69" y1="241.6" x2="794.69" y2="246.7" stroke="#8f8a88" stroke-opacity="0.75" stroke-width="0.6"/>
<rect x="793.49" y="244.4" width="2.4" height="1.9" fill="#66ab88" stroke="#4a8c6c" stroke-width="0.5"/>
<line x1="798.44" y1="240.8" x2="798.44" y2="250.3" stroke="#8f8a88" stroke-opacity="0.75" stroke-width="0.6"/>
<rect x="797.24" y="244.2" width="2.4" height="5.6" fill="#d9573f" stroke="#b0483a" stroke-width="0.5"/>
<line x1="801.88" y1="249.4" x2="801.88" y2="255.3" stroke="#8f8a88" stroke-opacity="0.75" stroke-width="0.6"/>
<rect x="800.67" y="249.8" width="2.4" height="2.7" fill="#d9573f" stroke="#b0483a" stroke-width="0.5"/>
<line x1="805.47" y1="244.7" x2="805.47" y2="254.4" stroke="#8f8a88" stroke-opacity="0.75" stroke-width="0.6"/>
<rect x="804.27" y="245.2" width="2.4" height="7.7" fill="#66ab88" stroke="#4a8c6c" stroke-width="0.5"/>
<line x1="809.06" y1="232.8" x2="809.06" y2="245.2" stroke="#8f8a88" stroke-opacity="0.75" stroke-width="0.6"/>
<rect x="807.86" y="233.3" width="2.4" height="11.4" fill="#66ab88" stroke="#4a8c6c" stroke-width="0.5"/>
<line x1="812.50" y1="225.2" x2="812.50" y2="234.2" stroke="#8f8a88" stroke-opacity="0.75" stroke-width="0.6"/>
<rect x="811.30" y="230.2" width="2.4" height="3.6" fill="#66ab88" stroke="#4a8c6c" stroke-width="0.5"/>
<line x1="816.41" y1="227.5" x2="816.41" y2="238.4" stroke="#8f8a88" stroke-opacity="0.75" stroke-width="0.6"/>
<rect x="815.21" y="230.2" width="2.4" height="5.6" fill="#d9573f" stroke="#b0483a" stroke-width="0.5"/>
<line x1="819.84" y1="232.2" x2="819.84" y2="237.7" stroke="#8f8a88" stroke-opacity="0.75" stroke-width="0.6"/>
<rect x="818.64" y="233.0" width="2.4" height="1.9" fill="#66ab88" stroke="#4a8c6c" stroke-width="0.5"/>
<line x1="823.44" y1="226.7" x2="823.44" y2="235.6" stroke="#8f8a88" stroke-opacity="0.75" stroke-width="0.6"/>
<rect x="822.24" y="230.9" width="2.4" height="2.8" fill="#66ab88" stroke="#4a8c6c" stroke-width="0.5"/>
<line x1="827.03" y1="216.6" x2="827.03" y2="230.8" stroke="#8f8a88" stroke-opacity="0.75" stroke-width="0.6"/>
<rect x="825.83" y="217.0" width="2.4" height="13.3" fill="#66ab88" stroke="#4a8c6c" stroke-width="0.5"/>
<line x1="830.62" y1="210.3" x2="830.62" y2="224.4" stroke="#8f8a88" stroke-opacity="0.75" stroke-width="0.6"/>
<rect x="829.42" y="212.7" width="2.4" height="5.2" fill="#66ab88" stroke="#4a8c6c" stroke-width="0.5"/>
<line x1="834.22" y1="206.1" x2="834.22" y2="212.8" stroke="#8f8a88" stroke-opacity="0.75" stroke-width="0.6"/>
<rect x="833.02" y="211.1" width="2.4" height="1.2" fill="#66ab88" stroke="#4a8c6c" stroke-width="0.5"/>
<line x1="837.81" y1="205.6" x2="837.81" y2="219.7" stroke="#8f8a88" stroke-opacity="0.75" stroke-width="0.6"/>
<rect x="836.61" y="211.4" width="2.4" height="1.7" fill="#d9573f" stroke="#b0483a" stroke-width="0.5"/>
<line x1="841.41" y1="206.6" x2="841.41" y2="216.2" stroke="#8f8a88" stroke-opacity="0.75" stroke-width="0.6"/>
<rect x="840.21" y="207.2" width="2.4" height="5.9" fill="#66ab88" stroke="#4a8c6c" stroke-width="0.5"/>
<line x1="845.00" y1="192.7" x2="845.00" y2="207.3" stroke="#8f8a88" stroke-opacity="0.75" stroke-width="0.6"/>
<rect x="843.80" y="193.1" width="2.4" height="13.8" fill="#66ab88" stroke="#4a8c6c" stroke-width="0.5"/>
<line x1="848.59" y1="188.1" x2="848.59" y2="196.7" stroke="#8f8a88" stroke-opacity="0.75" stroke-width="0.6"/>
<rect x="847.39" y="188.8" width="2.4" height="5.2" fill="#66ab88" stroke="#4a8c6c" stroke-width="0.5"/>
<line x1="852.19" y1="175.0" x2="852.19" y2="189.1" stroke="#8f8a88" stroke-opacity="0.75" stroke-width="0.6"/>
<rect x="850.99" y="178.1" width="2.4" height="10.6" fill="#66ab88" stroke="#4a8c6c" stroke-width="0.5"/>
<line x1="855.78" y1="175.8" x2="855.78" y2="195.3" stroke="#8f8a88" stroke-opacity="0.75" stroke-width="0.6"/>
<rect x="854.58" y="178.9" width="2.4" height="12.0" fill="#d9573f" stroke="#b0483a" stroke-width="0.5"/>
<line x1="859.38" y1="182.2" x2="859.38" y2="196.9" stroke="#8f8a88" stroke-opacity="0.75" stroke-width="0.6"/>
<rect x="858.17" y="182.8" width="2.4" height="9.4" fill="#66ab88" stroke="#4a8c6c" stroke-width="0.5"/>
<line x1="863.12" y1="165.0" x2="863.12" y2="185.9" stroke="#8f8a88" stroke-opacity="0.75" stroke-width="0.6"/>
<rect x="861.92" y="165.6" width="2.4" height="17.5" fill="#66ab88" stroke="#4a8c6c" stroke-width="0.5"/>
<line x1="866.56" y1="152.3" x2="866.56" y2="169.5" stroke="#8f8a88" stroke-opacity="0.75" stroke-width="0.6"/>
<rect x="865.36" y="159.8" width="2.4" height="5.8" fill="#66ab88" stroke="#4a8c6c" stroke-width="0.5"/>
<line x1="870.31" y1="145.3" x2="870.31" y2="160.6" stroke="#8f8a88" stroke-opacity="0.75" stroke-width="0.6"/>
<rect x="869.11" y="146.9" width="2.4" height="13.3" fill="#66ab88" stroke="#4a8c6c" stroke-width="0.5"/>
<line x1="873.75" y1="125.3" x2="873.75" y2="148.4" stroke="#8f8a88" stroke-opacity="0.75" stroke-width="0.6"/>
<rect x="872.55" y="125.9" width="2.4" height="20.6" fill="#66ab88" stroke="#4a8c6c" stroke-width="0.5"/>
<line x1="877.34" y1="114.8" x2="877.34" y2="150.8" stroke="#8f8a88" stroke-opacity="0.75" stroke-width="0.6"/>
<rect x="876.14" y="123.1" width="2.4" height="15.5" fill="#d9573f" stroke="#b0483a" stroke-width="0.5"/>
</g>
<g stroke="#726d69" stroke-width="0.85">
<line x1="6.8" y1="94.5" x2="1017.4" y2="94.5"/>
<line x1="6.8" y1="503.5" x2="1017.4" y2="503.5"/>
<line x1="6.8" y1="525.5" x2="1017.4" y2="525.5"/>
<line x1="967.5" y1="18.5" x2="967.5" y2="544.2"/>
</g>
<g font-size="7.9" fill="#6a6a6a">
<text x="973.5" y="151.0" textLength="37.4" lengthAdjust="spacing">4,200.000</text>
<text x="973.5" y="188.3" textLength="37.4" lengthAdjust="spacing">4,000.000</text>
<text x="973.5" y="225.6" textLength="37.4" lengthAdjust="spacing">3,800.000</text>
<text x="973.5" y="263.0" textLength="37.4" lengthAdjust="spacing">3,600.000</text>
<text x="973.5" y="300.3" textLength="37.4" lengthAdjust="spacing">3,400.000</text>
<text x="973.5" y="337.6" textLength="37.4" lengthAdjust="spacing">3,200.000</text>
<text x="973.5" y="374.9" textLength="37.4" lengthAdjust="spacing">3,000.000</text>
<text x="973.5" y="412.2" textLength="37.4" lengthAdjust="spacing">2,800.000</text>
<text x="973.5" y="449.6" textLength="37.4" lengthAdjust="spacing">2,600.000</text>
<text x="973.5" y="486.9" textLength="37.4" lengthAdjust="spacing">2,400.000</text>
<text x="973.5" y="30.0" textLength="20.8" lengthAdjust="spacing">80.00</text>
<text x="973.5" y="74.1" textLength="20.8" lengthAdjust="spacing">40.00</text>
</g>
<rect x="970" y="97.3" width="45" height="17.1" rx="3" fill="#ffffff"/>
<text x="976.1" y="108.7" font-size="8.3" fill="#222">USD</text>
<rect x="930.5" y="133.2" width="83.4" height="10.9" rx="1.5" fill="#da4c3c"/>
<line x1="967.5" y1="133.2" x2="967.5" y2="144.1" stroke="#000" stroke-opacity="0.25" stroke-width="0.9"/>
<text x="933.7" y="141.2" font-size="7.9" fill="#fff" textLength="30.8" lengthAdjust="spacing">XAUUSD</text>
<text x="973.5" y="141.2" font-size="7.9" fill="#fff" textLength="37.4" lengthAdjust="spacing">4,253.975</text>
<g font-size="8" fill="#6a6a6a" text-anchor="middle">
<text x="66.4" y="537.9">Dec</text>
<text x="142.1" y="537.9" font-weight="bold" fill="#555" letter-spacing="0.4">2025</text>
<text x="220.8" y="537.9">Feb</text>
<text x="292.5" y="537.9">Mar</text>
<text x="368.2" y="537.9">Apr</text>
<text x="443.3" y="537.9">May</text>
<text x="522.3" y="537.9">Jun</text>
<text x="597.6" y="537.9">Jul</text>
<text x="679.9" y="537.9">Aug</text>
<text x="755.3" y="537.9">Sep</text>
<text x="834.3" y="537.9">Oct</text>
<text x="916.6" y="537.9">Nov</text>
</g>
<text x="12.2" y="31.9" font-size="8.4" fill="#5a5a5a" stroke="#5a5a5a" stroke-width="0.18" textLength="53.8" lengthAdjust="spacingAndGlyphs">RSI (14, close)</text>
<text x="71.4" y="31.9" font-size="8.4" fill="#8a6fd1" stroke="#8a6fd1" stroke-width="0.18" textLength="19.8" lengthAdjust="spacingAndGlyphs">77.72</text>
<text x="96.9" y="31.9" font-size="8.4" fill="#f5d552" stroke="#f5d552" stroke-width="0.18" textLength="19.2" lengthAdjust="spacingAndGlyphs">81.70</text>
<text x="12.2" y="108.2" font-size="8.4" fill="#5a5a5a" stroke="#5a5a5a" stroke-width="0.18" textLength="136.5" lengthAdjust="spacingAndGlyphs">Gold Spot / U.S. Dollar · 1D · OANDA</text>
<text x="154.7" y="108.2" font-size="8.4" fill="#5a5a5a" stroke="#5a5a5a" stroke-width="0.18" textLength="6.3" lengthAdjust="spacingAndGlyphs">O</text>
<text x="161" y="108.2" font-size="8.4" fill="#7a3030" stroke="#7a3030" stroke-width="0.18" textLength="38.5" lengthAdjust="spacingAndGlyphs">4,338.030</text>
<text x="205.7" y="108.2" font-size="8.4" fill="#5a5a5a" stroke="#5a5a5a" stroke-width="0.18" textLength="5.8" lengthAdjust="spacingAndGlyphs">H</text>
<text x="211.5" y="108.2" font-size="8.4" fill="#7a3030" stroke="#7a3030" stroke-width="0.18" textLength="38.4" lengthAdjust="spacingAndGlyphs">4,380.990</text>
<text x="256.1" y="108.2" font-size="8.4" fill="#5a5a5a" stroke="#5a5a5a" stroke-width="0.18" textLength="4.6" lengthAdjust="spacingAndGlyphs">L</text>
<text x="260.7" y="108.2" font-size="8.4" fill="#7a3030" stroke="#7a3030" stroke-width="0.18" textLength="35.1" lengthAdjust="spacingAndGlyphs">4,185.910</text>
<text x="302" y="108.2" font-size="8.4" fill="#5a5a5a" stroke="#5a5a5a" stroke-width="0.18" textLength="6" lengthAdjust="spacingAndGlyphs">C</text>
<text x="308" y="108.2" font-size="8.4" fill="#7a3030" stroke="#7a3030" stroke-width="0.18" textLength="36.5" lengthAdjust="spacingAndGlyphs">4,253.975</text>
<text x="351" y="108.2" font-size="8.4" fill="#7a3030" stroke="#7a3030" stroke-width="0.18" textLength="30.6" lengthAdjust="spacingAndGlyphs">−72.090</text>
<text x="385.8" y="108.2" font-size="8.4" fill="#7a3030" stroke="#7a3030" stroke-width="0.18" textLength="32.3" lengthAdjust="spacingAndGlyphs">(−1.67%)</text>
<text x="12.2" y="120" font-size="8.4" fill="#5a5a5a" stroke="#5a5a5a" stroke-width="0.18" textLength="59.8" lengthAdjust="spacingAndGlyphs">EMA (50, close)</text>
<text x="77.8" y="120" font-size="8.4" fill="#f0525e" stroke="#f0525e" stroke-width="0.18" textLength="36.7" lengthAdjust="spacingAndGlyphs">3,759.727</text>
<text x="12.2" y="131.6" font-size="8.4" fill="#5a5a5a" stroke="#5a5a5a" stroke-width="0.18" textLength="64.7" lengthAdjust="spacingAndGlyphs">EMA (200, close)</text>
<text x="82.5" y="131.6" font-size="8.4" fill="#3f6df5" stroke="#3f6df5" stroke-width="0.18" textLength="36.7" lengthAdjust="spacingAndGlyphs">3,319.607</text>
<text x="12.2" y="143.2" font-size="8.4" fill="#5a5a5a" stroke="#5a5a5a" stroke-width="0.18" textLength="59.8" lengthAdjust="spacingAndGlyphs">EMA (20, close)</text>
<text x="77.8" y="143.2" font-size="8.4" fill="#3c7d40" stroke="#3c7d40" stroke-width="0.18" textLength="35.4" lengthAdjust="spacingAndGlyphs">3,986.311</text>
<text x="12.3" y="516.9" font-size="8.4" fill="#5a5a5a" stroke="#5a5a5a" stroke-width="0.18" textLength="79.7" lengthAdjust="spacingAndGlyphs">MACD (12, 26, close)</text>
<text x="97.3" y="516.9" font-size="8.4" fill="#b5e0dc" stroke="#b5e0dc" stroke-width="0.18" textLength="25.5" lengthAdjust="spacingAndGlyphs">26.461</text>
<text x="127.8" y="516.9" font-size="8.4" fill="#3f6df5" stroke="#3f6df5" stroke-width="0.18" textLength="28.2" lengthAdjust="spacingAndGlyphs">161.010</text>
<text x="161" y="516.9" font-size="8.4" fill="#f57f20" stroke="#f57f20" stroke-width="0.18" textLength="30.9" lengthAdjust="spacingAndGlyphs">134.549</text>
<text x="6.8" y="13.5" font-size="8.8" fill="#dcdcdc" stroke="#dcdcdc" stroke-width="0.25" textLength="261.7" lengthAdjust="spacingAndGlyphs">bitcoinwallah created with TradingView.com, Oct 18, 2025 14:10 UTC</text>
<g fill="#d6d6d6">
<path d="M8.1 559.3 H16.1 V569.2 H12 V563.6 H8.1 Z"/>
<circle cx="19.5" cy="561.3" r="1.6"/>
<path d="M23.6 559.3 H28.2 L24.3 569.2 H19.8 Z"/>
<text x="33.3" y="569.3" font-size="13.2" stroke="#d6d6d6" stroke-width="0.6" textLength="80.8" lengthAdjust="spacingAndGlyphs">TradingView</text>
</g>
</svg>
</body></html>
